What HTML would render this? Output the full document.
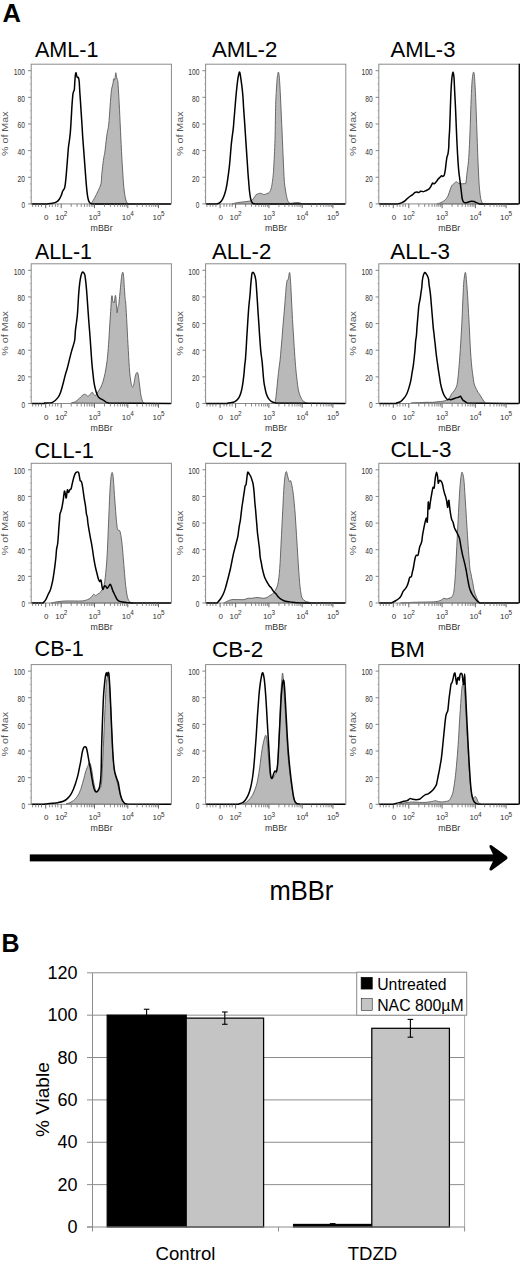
<!DOCTYPE html>
<html><head><meta charset="utf-8"><title>Figure</title>
<style>
html,body{margin:0;padding:0;background:#fff;}
body{width:520px;height:1261px;overflow:hidden;}
svg{display:block;font-family:"Liberation Sans", sans-serif;}
</style></head>
<body>
<svg width="520" height="1261" viewBox="0 0 520 1261">
<rect width="520" height="1261" fill="#fff"/>
<text x="2.4" y="22.2" font-size="25.5" font-weight="bold" fill="#000">A</text>
<text x="1.6" y="951.8" font-size="25" font-weight="bold" fill="#000">B</text>
<g transform="translate(31.2,64.2)">
<path d="M59.7,139.7 C60.26,138.82 61.84,136.64 63.07,134.42 C64.3,132.19 65.99,128.81 67.11,126.34 C68.23,123.87 69.24,122.08 69.8,119.61 C70.36,117.14 70.25,114 70.47,111.53 C70.7,109.06 70.81,107.72 71.15,104.8 C71.48,101.88 72.09,96.72 72.49,94.03 C72.9,91.34 73.23,90.89 73.57,88.65 C73.91,86.4 74.2,83.26 74.51,80.57 C74.83,77.88 75.16,74.74 75.45,72.49 C75.75,70.25 75.97,68.68 76.26,67.11 C76.55,65.54 76.93,64.86 77.2,63.07 C77.47,61.27 77.65,59.03 77.88,56.34 C78.1,53.65 78.33,50.06 78.55,46.92 C78.77,43.77 79,40.41 79.22,37.49 C79.45,34.58 79.67,31.66 79.9,29.42 C80.12,27.17 80.28,25.6 80.57,24.03 C80.86,22.46 81.31,21.56 81.65,19.99 C81.98,18.42 82.32,15.28 82.59,14.61 C82.86,13.93 83.04,16.18 83.26,15.95 C83.49,15.73 83.71,14.5 83.93,13.26 C84.16,12.03 84.38,8.66 84.61,8.55 C84.83,8.44 85.06,11.58 85.28,12.59 C85.51,13.6 85.73,13.82 85.95,14.61 C86.18,15.39 86.4,15.28 86.63,17.3 C86.85,19.32 87.08,23.13 87.3,26.72 C87.52,30.31 87.75,34.58 87.97,38.84 C88.2,43.1 88.42,47.59 88.65,52.3 C88.87,57.01 89.09,62.4 89.32,67.11 C89.54,71.82 89.77,76.08 89.99,80.57 C90.22,85.06 90.44,89.99 90.67,94.03 C90.89,98.07 91.11,101.21 91.34,104.8 C91.56,108.39 91.79,112.43 92.01,115.57 C92.24,118.71 92.39,120.95 92.68,123.65 C92.98,126.34 93.36,129.48 93.76,131.72 C94.17,133.97 94.61,135.78 95.11,137.11 C95.6,138.44 96.45,139.27 96.72,139.7 L96.72,139.7 Z" fill="#b9b9b9" stroke="#5a5a5a" stroke-width="0.9" stroke-linejoin="round"/>
<rect x="0" y="0" width="140.2" height="139.7" fill="none" stroke="#8a8a8a" stroke-width="1"/>
<path d="M0.5,139.7 L15.95,139.7 L15.95,139.7 C16.85,139.6 19.77,139.45 21.34,139.13 C22.91,138.81 24.26,138.45 25.38,137.78 C26.5,137.11 27.28,136.21 28.07,135.09 C28.85,133.97 29.53,132.4 30.09,131.05 C30.65,129.7 30.92,128.13 31.43,127.01 C31.95,125.89 32.74,125.55 33.18,124.32 C33.63,123.09 33.81,121.96 34.13,119.61 C34.44,117.25 34.73,114 35.07,110.18 C35.41,106.37 35.79,101.21 36.15,96.72 C36.51,92.24 36.89,86.63 37.22,83.26 C37.56,79.9 37.85,79 38.17,76.53 C38.48,74.06 38.82,71.82 39.11,68.45 C39.4,65.09 39.67,60.38 39.92,56.34 C40.16,52.3 40.36,47.81 40.59,44.22 C40.81,40.63 41.06,37.27 41.26,34.8 C41.46,32.33 41.58,30.76 41.8,29.42 C42.02,28.07 42.38,27.4 42.61,26.72 C42.83,26.05 42.99,26.72 43.15,25.38 C43.3,24.03 43.37,21.11 43.55,18.65 C43.73,16.18 44,12.25 44.22,10.57 C44.45,8.89 44.67,8.33 44.9,8.55 C45.12,8.77 45.34,11.13 45.57,11.92 C45.79,12.7 45.97,13.04 46.24,13.26 C46.51,13.49 46.89,12.59 47.18,13.26 C47.48,13.93 47.77,15.06 47.99,17.3 C48.22,19.54 48.33,23.58 48.53,26.72 C48.73,29.86 48.98,32.78 49.2,36.15 C49.43,39.51 49.63,43.1 49.88,46.92 C50.12,50.73 50.42,54.77 50.68,59.03 C50.95,63.29 51.22,68.45 51.49,72.49 C51.76,76.53 52.03,79.67 52.3,83.26 C52.57,86.85 52.84,90.44 53.11,94.03 C53.38,97.62 53.65,101.21 53.92,104.8 C54.18,108.39 54.45,112.2 54.72,115.57 C54.99,118.93 55.26,122.3 55.53,124.99 C55.8,127.68 56.02,129.82 56.34,131.72 C56.65,133.63 57.01,135.27 57.42,136.43 C57.82,137.6 58.27,138.18 58.76,138.72 C59.26,139.27 60.11,139.54 60.38,139.7 L139.7,139.7" fill="none" stroke="#000" stroke-width="1.5" stroke-linejoin="round"/>
<line x1="-3.2" y1="139.7" x2="0" y2="139.7" stroke="#777" stroke-width="0.9"/>
<text x="-9.8" y="144.1" font-size="8.6" fill="#333" textLength="3.6" lengthAdjust="spacingAndGlyphs">0</text>
<line x1="-3.2" y1="113.06" x2="0" y2="113.06" stroke="#777" stroke-width="0.9"/>
<text x="-13.6" y="117.46" font-size="8.6" fill="#333" textLength="7.4" lengthAdjust="spacingAndGlyphs">20</text>
<line x1="-3.2" y1="86.42" x2="0" y2="86.42" stroke="#777" stroke-width="0.9"/>
<text x="-13.6" y="90.82" font-size="8.6" fill="#333" textLength="7.4" lengthAdjust="spacingAndGlyphs">40</text>
<line x1="-3.2" y1="59.78" x2="0" y2="59.78" stroke="#777" stroke-width="0.9"/>
<text x="-13.6" y="64.18" font-size="8.6" fill="#333" textLength="7.4" lengthAdjust="spacingAndGlyphs">60</text>
<line x1="-3.2" y1="33.14" x2="0" y2="33.14" stroke="#777" stroke-width="0.9"/>
<text x="-13.6" y="37.54" font-size="8.6" fill="#333" textLength="7.4" lengthAdjust="spacingAndGlyphs">80</text>
<line x1="-3.2" y1="6.5" x2="0" y2="6.5" stroke="#777" stroke-width="0.9"/>
<text x="-17.4" y="10.9" font-size="8.6" fill="#333" textLength="11.2" lengthAdjust="spacingAndGlyphs">100</text>
<line x1="-1.4" y1="133.04" x2="0" y2="133.04" stroke="#999" stroke-width="0.7"/>
<line x1="-1.4" y1="126.38" x2="0" y2="126.38" stroke="#999" stroke-width="0.7"/>
<line x1="-1.4" y1="119.72" x2="0" y2="119.72" stroke="#999" stroke-width="0.7"/>
<line x1="-1.4" y1="106.4" x2="0" y2="106.4" stroke="#999" stroke-width="0.7"/>
<line x1="-1.4" y1="99.74" x2="0" y2="99.74" stroke="#999" stroke-width="0.7"/>
<line x1="-1.4" y1="93.08" x2="0" y2="93.08" stroke="#999" stroke-width="0.7"/>
<line x1="-1.4" y1="79.76" x2="0" y2="79.76" stroke="#999" stroke-width="0.7"/>
<line x1="-1.4" y1="73.1" x2="0" y2="73.1" stroke="#999" stroke-width="0.7"/>
<line x1="-1.4" y1="66.44" x2="0" y2="66.44" stroke="#999" stroke-width="0.7"/>
<line x1="-1.4" y1="53.12" x2="0" y2="53.12" stroke="#999" stroke-width="0.7"/>
<line x1="-1.4" y1="46.46" x2="0" y2="46.46" stroke="#999" stroke-width="0.7"/>
<line x1="-1.4" y1="39.8" x2="0" y2="39.8" stroke="#999" stroke-width="0.7"/>
<line x1="-1.4" y1="26.48" x2="0" y2="26.48" stroke="#999" stroke-width="0.7"/>
<line x1="-1.4" y1="19.82" x2="0" y2="19.82" stroke="#999" stroke-width="0.7"/>
<line x1="-1.4" y1="13.16" x2="0" y2="13.16" stroke="#999" stroke-width="0.7"/>
<text transform="translate(-22.9,69.55) rotate(-90)" font-size="9.8" fill="#555" text-anchor="middle" textLength="44.6" lengthAdjust="spacingAndGlyphs">% of Max</text>
<line x1="14.5" y1="139.7" x2="14.5" y2="144" stroke="#555" stroke-width="0.9"/>
<line x1="30" y1="139.7" x2="30" y2="144" stroke="#555" stroke-width="0.9"/>
<line x1="63.3" y1="139.7" x2="63.3" y2="144" stroke="#555" stroke-width="0.9"/>
<line x1="96.6" y1="139.7" x2="96.6" y2="144" stroke="#555" stroke-width="0.9"/>
<line x1="127.3" y1="139.7" x2="127.3" y2="144" stroke="#555" stroke-width="0.9"/>
<line x1="40.02" y1="139.7" x2="40.02" y2="142.7" stroke="#666" stroke-width="0.75"/>
<line x1="45.89" y1="139.7" x2="45.89" y2="142.7" stroke="#666" stroke-width="0.75"/>
<line x1="50.05" y1="139.7" x2="50.05" y2="142.7" stroke="#666" stroke-width="0.75"/>
<line x1="53.28" y1="139.7" x2="53.28" y2="142.7" stroke="#666" stroke-width="0.75"/>
<line x1="55.91" y1="139.7" x2="55.91" y2="142.7" stroke="#666" stroke-width="0.75"/>
<line x1="58.14" y1="139.7" x2="58.14" y2="142.7" stroke="#666" stroke-width="0.75"/>
<line x1="60.07" y1="139.7" x2="60.07" y2="142.7" stroke="#666" stroke-width="0.75"/>
<line x1="61.78" y1="139.7" x2="61.78" y2="142.7" stroke="#666" stroke-width="0.75"/>
<line x1="73.32" y1="139.7" x2="73.32" y2="142.7" stroke="#666" stroke-width="0.75"/>
<line x1="79.19" y1="139.7" x2="79.19" y2="142.7" stroke="#666" stroke-width="0.75"/>
<line x1="83.35" y1="139.7" x2="83.35" y2="142.7" stroke="#666" stroke-width="0.75"/>
<line x1="86.58" y1="139.7" x2="86.58" y2="142.7" stroke="#666" stroke-width="0.75"/>
<line x1="89.21" y1="139.7" x2="89.21" y2="142.7" stroke="#666" stroke-width="0.75"/>
<line x1="91.44" y1="139.7" x2="91.44" y2="142.7" stroke="#666" stroke-width="0.75"/>
<line x1="93.37" y1="139.7" x2="93.37" y2="142.7" stroke="#666" stroke-width="0.75"/>
<line x1="95.08" y1="139.7" x2="95.08" y2="142.7" stroke="#666" stroke-width="0.75"/>
<line x1="105.84" y1="139.7" x2="105.84" y2="142.7" stroke="#666" stroke-width="0.75"/>
<line x1="111.25" y1="139.7" x2="111.25" y2="142.7" stroke="#666" stroke-width="0.75"/>
<line x1="115.08" y1="139.7" x2="115.08" y2="142.7" stroke="#666" stroke-width="0.75"/>
<line x1="118.06" y1="139.7" x2="118.06" y2="142.7" stroke="#666" stroke-width="0.75"/>
<line x1="120.49" y1="139.7" x2="120.49" y2="142.7" stroke="#666" stroke-width="0.75"/>
<line x1="122.54" y1="139.7" x2="122.54" y2="142.7" stroke="#666" stroke-width="0.75"/>
<line x1="124.32" y1="139.7" x2="124.32" y2="142.7" stroke="#666" stroke-width="0.75"/>
<line x1="125.9" y1="139.7" x2="125.9" y2="142.7" stroke="#666" stroke-width="0.75"/>
<line x1="1.4" y1="139.7" x2="1.4" y2="142.7" stroke="#666" stroke-width="0.75"/>
<line x1="4.6" y1="139.7" x2="4.6" y2="142.7" stroke="#666" stroke-width="0.75"/>
<line x1="7.3" y1="139.7" x2="7.3" y2="142.7" stroke="#666" stroke-width="0.75"/>
<line x1="10.3" y1="139.7" x2="10.3" y2="142.7" stroke="#666" stroke-width="0.75"/>
<line x1="18.4" y1="139.7" x2="18.4" y2="142.7" stroke="#666" stroke-width="0.75"/>
<line x1="21.1" y1="139.7" x2="21.1" y2="142.7" stroke="#666" stroke-width="0.75"/>
<line x1="24.2" y1="139.7" x2="24.2" y2="142.7" stroke="#666" stroke-width="0.75"/>
<line x1="26.6" y1="139.7" x2="26.6" y2="142.7" stroke="#666" stroke-width="0.75"/>
<text x="15.1" y="155.9" font-size="8" fill="#333" text-anchor="middle">0</text>
<text x="24" y="155.9" font-size="8" fill="#333">10</text>
<text x="32.5" y="152" font-size="6.4" fill="#333">2</text>
<text x="57.3" y="155.9" font-size="8" fill="#333">10</text>
<text x="65.8" y="152" font-size="6.4" fill="#333">3</text>
<text x="90.6" y="155.9" font-size="8" fill="#333">10</text>
<text x="99.1" y="152" font-size="6.4" fill="#333">4</text>
<text x="121.3" y="155.9" font-size="8" fill="#333">10</text>
<text x="129.8" y="152" font-size="6.4" fill="#333">5</text>
<text x="70.4" y="166.9" font-size="8.8" fill="#333" text-anchor="middle">mBBr</text>
</g>
<text transform="translate(35,57.3) scale(0.98,1)" font-size="22" fill="#000">AML-1</text>
<g transform="translate(205.6,64.2)">
<path d="M26.32,139.7 C27.22,139.49 29.91,138.77 31.71,138.45 C33.5,138.13 35.3,138.01 37.09,137.78 C38.89,137.56 41.02,137.33 42.48,137.11 C43.94,136.88 44.94,136.88 45.84,136.43 C46.74,135.99 47.3,135.09 47.86,134.42 C48.42,133.74 48.76,133.07 49.21,132.4 C49.66,131.72 49.99,130.83 50.55,130.38 C51.11,129.93 51.9,129.93 52.57,129.7 C53.25,129.48 53.92,129.03 54.59,129.03 C55.27,129.03 55.94,129.48 56.61,129.7 C57.28,129.93 57.96,130.38 58.63,130.38 C59.3,130.38 59.98,129.93 60.65,129.7 C61.32,129.48 62.11,129.37 62.67,129.03 C63.23,128.69 63.57,128.36 64.02,127.68 C64.46,127.01 64.91,126.56 65.36,124.99 C65.81,123.42 66.26,121.63 66.71,118.26 C67.16,114.9 67.61,111.98 68.05,104.8 C68.5,97.62 69.06,85.95 69.4,75.18 C69.74,64.42 69.85,48.26 70.07,40.18 C70.3,32.11 70.52,30.76 70.75,26.72 C70.97,22.68 71.19,18.65 71.42,15.95 C71.64,13.26 71.87,11.92 72.09,10.57 C72.32,9.22 72.54,7.88 72.77,7.88 C72.99,7.88 73.21,8.77 73.44,10.57 C73.66,12.36 73.89,15.28 74.11,18.65 C74.34,22.01 74.56,26.27 74.78,30.76 C75.01,35.25 75.23,40.63 75.46,45.57 C75.68,50.51 75.91,55.44 76.13,60.38 C76.36,65.31 76.58,70.02 76.8,75.18 C77.03,80.34 77.25,86.18 77.48,91.34 C77.7,96.5 77.93,101.66 78.15,106.15 C78.37,110.63 78.49,114.67 78.82,118.26 C79.16,121.85 79.72,124.99 80.17,127.68 C80.62,130.38 81.07,132.73 81.52,134.42 C81.96,136.1 82.3,137 82.86,137.78 C83.42,138.57 83.76,139.01 84.88,139.13 C86,139.24 88.13,138.57 89.59,138.45 C91.05,138.34 92.51,138.25 93.63,138.45 C94.75,138.66 95.87,139.49 96.32,139.7 L96.32,139.7 Z" fill="#b9b9b9" stroke="#5a5a5a" stroke-width="0.9" stroke-linejoin="round"/>
<rect x="0" y="0" width="140.2" height="139.7" fill="none" stroke="#8a8a8a" stroke-width="1"/>
<path d="M0.5,139.7 L11.52,139.7 L11.52,139.7 C11.96,139.49 13.31,139.22 14.21,138.45 C15.11,137.69 16.11,136.43 16.9,135.09 C17.69,133.74 18.29,132.28 18.92,130.38 C19.55,128.47 20.15,126.11 20.67,123.65 C21.19,121.18 21.63,118.04 22.02,115.57 C22.4,113.1 22.69,110.86 22.96,108.84 C23.23,106.82 23.41,105.47 23.63,103.45 C23.86,101.43 24.08,99.19 24.3,96.72 C24.53,94.26 24.75,91.34 24.98,88.65 C25.2,85.95 25.38,83.26 25.65,80.57 C25.92,77.88 26.26,75.18 26.59,72.49 C26.93,69.8 27.38,67.11 27.67,64.42 C27.96,61.72 28.12,59.03 28.34,56.34 C28.57,53.65 28.79,50.95 29.02,48.26 C29.24,45.57 29.46,42.88 29.69,40.18 C29.91,37.49 30.09,35.02 30.36,32.11 C30.63,29.19 31.01,25.38 31.3,22.68 C31.6,19.99 31.82,17.97 32.11,15.95 C32.4,13.93 32.72,11.92 33.05,10.57 C33.39,9.22 33.79,7.43 34.13,7.88 C34.47,8.33 34.76,11.24 35.07,13.26 C35.39,15.28 35.72,17.75 36.02,19.99 C36.31,22.24 36.58,24.26 36.82,26.72 C37.07,29.19 37.29,31.88 37.5,34.8 C37.7,37.72 37.83,41.08 38.03,44.22 C38.24,47.36 38.51,50.73 38.71,53.65 C38.91,56.56 39.07,59.03 39.25,61.72 C39.43,64.42 39.61,67.11 39.78,69.8 C39.96,72.49 40.14,75.18 40.32,77.88 C40.5,80.57 40.68,83.26 40.86,85.95 C41.04,88.65 41.22,91.34 41.4,94.03 C41.58,96.72 41.76,99.42 41.94,102.11 C42.12,104.8 42.27,107.49 42.48,110.18 C42.68,112.88 42.93,115.57 43.15,118.26 C43.37,120.95 43.55,123.87 43.82,126.34 C44.09,128.81 44.43,131.27 44.77,133.07 C45.1,134.86 45.44,136.1 45.84,137.11 C46.25,138.12 46.63,138.69 47.19,139.13 C47.75,139.56 48.87,139.6 49.21,139.7 L139.7,139.7" fill="none" stroke="#000" stroke-width="1.5" stroke-linejoin="round"/>
<line x1="-3.2" y1="139.7" x2="0" y2="139.7" stroke="#777" stroke-width="0.9"/>
<text x="-9.8" y="144.1" font-size="8.6" fill="#333" textLength="3.6" lengthAdjust="spacingAndGlyphs">0</text>
<line x1="-3.2" y1="113.06" x2="0" y2="113.06" stroke="#777" stroke-width="0.9"/>
<text x="-13.6" y="117.46" font-size="8.6" fill="#333" textLength="7.4" lengthAdjust="spacingAndGlyphs">20</text>
<line x1="-3.2" y1="86.42" x2="0" y2="86.42" stroke="#777" stroke-width="0.9"/>
<text x="-13.6" y="90.82" font-size="8.6" fill="#333" textLength="7.4" lengthAdjust="spacingAndGlyphs">40</text>
<line x1="-3.2" y1="59.78" x2="0" y2="59.78" stroke="#777" stroke-width="0.9"/>
<text x="-13.6" y="64.18" font-size="8.6" fill="#333" textLength="7.4" lengthAdjust="spacingAndGlyphs">60</text>
<line x1="-3.2" y1="33.14" x2="0" y2="33.14" stroke="#777" stroke-width="0.9"/>
<text x="-13.6" y="37.54" font-size="8.6" fill="#333" textLength="7.4" lengthAdjust="spacingAndGlyphs">80</text>
<line x1="-3.2" y1="6.5" x2="0" y2="6.5" stroke="#777" stroke-width="0.9"/>
<text x="-17.4" y="10.9" font-size="8.6" fill="#333" textLength="11.2" lengthAdjust="spacingAndGlyphs">100</text>
<line x1="-1.4" y1="133.04" x2="0" y2="133.04" stroke="#999" stroke-width="0.7"/>
<line x1="-1.4" y1="126.38" x2="0" y2="126.38" stroke="#999" stroke-width="0.7"/>
<line x1="-1.4" y1="119.72" x2="0" y2="119.72" stroke="#999" stroke-width="0.7"/>
<line x1="-1.4" y1="106.4" x2="0" y2="106.4" stroke="#999" stroke-width="0.7"/>
<line x1="-1.4" y1="99.74" x2="0" y2="99.74" stroke="#999" stroke-width="0.7"/>
<line x1="-1.4" y1="93.08" x2="0" y2="93.08" stroke="#999" stroke-width="0.7"/>
<line x1="-1.4" y1="79.76" x2="0" y2="79.76" stroke="#999" stroke-width="0.7"/>
<line x1="-1.4" y1="73.1" x2="0" y2="73.1" stroke="#999" stroke-width="0.7"/>
<line x1="-1.4" y1="66.44" x2="0" y2="66.44" stroke="#999" stroke-width="0.7"/>
<line x1="-1.4" y1="53.12" x2="0" y2="53.12" stroke="#999" stroke-width="0.7"/>
<line x1="-1.4" y1="46.46" x2="0" y2="46.46" stroke="#999" stroke-width="0.7"/>
<line x1="-1.4" y1="39.8" x2="0" y2="39.8" stroke="#999" stroke-width="0.7"/>
<line x1="-1.4" y1="26.48" x2="0" y2="26.48" stroke="#999" stroke-width="0.7"/>
<line x1="-1.4" y1="19.82" x2="0" y2="19.82" stroke="#999" stroke-width="0.7"/>
<line x1="-1.4" y1="13.16" x2="0" y2="13.16" stroke="#999" stroke-width="0.7"/>
<text transform="translate(-22.9,69.55) rotate(-90)" font-size="9.8" fill="#555" text-anchor="middle" textLength="44.6" lengthAdjust="spacingAndGlyphs">% of Max</text>
<line x1="14.5" y1="139.7" x2="14.5" y2="144" stroke="#555" stroke-width="0.9"/>
<line x1="30" y1="139.7" x2="30" y2="144" stroke="#555" stroke-width="0.9"/>
<line x1="63.3" y1="139.7" x2="63.3" y2="144" stroke="#555" stroke-width="0.9"/>
<line x1="96.6" y1="139.7" x2="96.6" y2="144" stroke="#555" stroke-width="0.9"/>
<line x1="127.3" y1="139.7" x2="127.3" y2="144" stroke="#555" stroke-width="0.9"/>
<line x1="40.02" y1="139.7" x2="40.02" y2="142.7" stroke="#666" stroke-width="0.75"/>
<line x1="45.89" y1="139.7" x2="45.89" y2="142.7" stroke="#666" stroke-width="0.75"/>
<line x1="50.05" y1="139.7" x2="50.05" y2="142.7" stroke="#666" stroke-width="0.75"/>
<line x1="53.28" y1="139.7" x2="53.28" y2="142.7" stroke="#666" stroke-width="0.75"/>
<line x1="55.91" y1="139.7" x2="55.91" y2="142.7" stroke="#666" stroke-width="0.75"/>
<line x1="58.14" y1="139.7" x2="58.14" y2="142.7" stroke="#666" stroke-width="0.75"/>
<line x1="60.07" y1="139.7" x2="60.07" y2="142.7" stroke="#666" stroke-width="0.75"/>
<line x1="61.78" y1="139.7" x2="61.78" y2="142.7" stroke="#666" stroke-width="0.75"/>
<line x1="73.32" y1="139.7" x2="73.32" y2="142.7" stroke="#666" stroke-width="0.75"/>
<line x1="79.19" y1="139.7" x2="79.19" y2="142.7" stroke="#666" stroke-width="0.75"/>
<line x1="83.35" y1="139.7" x2="83.35" y2="142.7" stroke="#666" stroke-width="0.75"/>
<line x1="86.58" y1="139.7" x2="86.58" y2="142.7" stroke="#666" stroke-width="0.75"/>
<line x1="89.21" y1="139.7" x2="89.21" y2="142.7" stroke="#666" stroke-width="0.75"/>
<line x1="91.44" y1="139.7" x2="91.44" y2="142.7" stroke="#666" stroke-width="0.75"/>
<line x1="93.37" y1="139.7" x2="93.37" y2="142.7" stroke="#666" stroke-width="0.75"/>
<line x1="95.08" y1="139.7" x2="95.08" y2="142.7" stroke="#666" stroke-width="0.75"/>
<line x1="105.84" y1="139.7" x2="105.84" y2="142.7" stroke="#666" stroke-width="0.75"/>
<line x1="111.25" y1="139.7" x2="111.25" y2="142.7" stroke="#666" stroke-width="0.75"/>
<line x1="115.08" y1="139.7" x2="115.08" y2="142.7" stroke="#666" stroke-width="0.75"/>
<line x1="118.06" y1="139.7" x2="118.06" y2="142.7" stroke="#666" stroke-width="0.75"/>
<line x1="120.49" y1="139.7" x2="120.49" y2="142.7" stroke="#666" stroke-width="0.75"/>
<line x1="122.54" y1="139.7" x2="122.54" y2="142.7" stroke="#666" stroke-width="0.75"/>
<line x1="124.32" y1="139.7" x2="124.32" y2="142.7" stroke="#666" stroke-width="0.75"/>
<line x1="125.9" y1="139.7" x2="125.9" y2="142.7" stroke="#666" stroke-width="0.75"/>
<line x1="1.4" y1="139.7" x2="1.4" y2="142.7" stroke="#666" stroke-width="0.75"/>
<line x1="4.6" y1="139.7" x2="4.6" y2="142.7" stroke="#666" stroke-width="0.75"/>
<line x1="7.3" y1="139.7" x2="7.3" y2="142.7" stroke="#666" stroke-width="0.75"/>
<line x1="10.3" y1="139.7" x2="10.3" y2="142.7" stroke="#666" stroke-width="0.75"/>
<line x1="18.4" y1="139.7" x2="18.4" y2="142.7" stroke="#666" stroke-width="0.75"/>
<line x1="21.1" y1="139.7" x2="21.1" y2="142.7" stroke="#666" stroke-width="0.75"/>
<line x1="24.2" y1="139.7" x2="24.2" y2="142.7" stroke="#666" stroke-width="0.75"/>
<line x1="26.6" y1="139.7" x2="26.6" y2="142.7" stroke="#666" stroke-width="0.75"/>
<text x="15.1" y="155.9" font-size="8" fill="#333" text-anchor="middle">0</text>
<text x="24" y="155.9" font-size="8" fill="#333">10</text>
<text x="32.5" y="152" font-size="6.4" fill="#333">2</text>
<text x="57.3" y="155.9" font-size="8" fill="#333">10</text>
<text x="65.8" y="152" font-size="6.4" fill="#333">3</text>
<text x="90.6" y="155.9" font-size="8" fill="#333">10</text>
<text x="99.1" y="152" font-size="6.4" fill="#333">4</text>
<text x="121.3" y="155.9" font-size="8" fill="#333">10</text>
<text x="129.8" y="152" font-size="6.4" fill="#333">5</text>
<text x="70.4" y="166.9" font-size="8.8" fill="#333" text-anchor="middle">mBBr</text>
</g>
<text transform="translate(211.9,57.3) scale(1.01,1)" font-size="22" fill="#000">AML-2</text>
<g transform="translate(378.8,64.2)">
<path d="M58.08,139.7 C58.76,139.49 60.89,139 62.12,138.45 C63.36,137.91 64.59,137.11 65.49,136.43 C66.39,135.76 66.95,135.09 67.51,134.42 C68.07,133.74 68.41,133.29 68.85,132.4 C69.3,131.5 69.75,130.26 70.2,129.03 C70.65,127.8 71.1,126.23 71.55,124.99 C71.99,123.76 72.33,122.52 72.89,121.63 C73.45,120.73 74.13,120.28 74.91,119.61 C75.7,118.93 76.82,117.7 77.6,117.59 C78.39,117.48 78.95,118.6 79.62,118.93 C80.3,119.27 80.97,119.5 81.64,119.61 C82.32,119.72 82.99,119.65 83.66,119.61 C84.33,119.56 85.12,119.45 85.68,119.34 C86.24,119.23 86.58,120.91 87.03,118.93 C87.48,116.96 87.92,111.19 88.37,107.49 C88.82,103.79 89.34,101.21 89.72,96.72 C90.1,92.24 90.37,86.63 90.66,80.57 C90.95,74.51 91.22,67.11 91.47,60.38 C91.72,53.65 91.87,46.92 92.14,40.18 C92.41,33.45 92.77,24.93 93.08,19.99 C93.4,15.06 93.74,12.59 94.03,10.57 C94.32,8.55 94.59,7.88 94.83,7.88 C95.08,7.88 95.28,8.55 95.51,10.57 C95.73,12.59 95.96,16.18 96.18,19.99 C96.41,23.81 96.63,28.29 96.85,33.45 C97.08,38.61 97.3,44.9 97.53,50.95 C97.75,57.01 97.98,63.52 98.2,69.8 C98.42,76.08 98.65,82.81 98.87,88.65 C99.1,94.48 99.32,99.86 99.55,104.8 C99.77,109.74 99.95,114.22 100.22,118.26 C100.49,122.3 100.82,126.11 101.16,129.03 C101.5,131.95 101.79,134.08 102.24,135.76 C102.69,137.44 103.25,138.47 103.85,139.13 C104.46,139.78 105.54,139.6 105.87,139.7 L105.87,139.7 Z" fill="#b9b9b9" stroke="#5a5a5a" stroke-width="0.9" stroke-linejoin="round"/>
<rect x="0" y="0" width="140.5" height="139.7" fill="none" stroke="#8a8a8a" stroke-width="1"/>
<line x1="140.5" y1="-0.5" x2="140.5" y2="139.7" stroke="#000" stroke-width="1.3"/>
<path d="M0.5,139.7 L19.05,139.7 L19.05,139.7 C19.72,139.49 21.85,139 23.08,138.45 C24.32,137.91 25.44,137.22 26.45,136.43 C27.46,135.65 28.24,134.53 29.14,133.74 C30.04,132.96 31.05,132.28 31.83,131.72 C32.62,131.16 33.18,130.94 33.85,130.38 C34.53,129.82 35.2,128.81 35.87,128.36 C36.55,127.91 37.22,127.68 37.89,127.68 C38.57,127.68 39.24,128.47 39.91,128.36 C40.58,128.25 41.15,127.17 41.93,127.01 C42.72,126.85 43.73,127.53 44.62,127.42 C45.52,127.3 46.42,126.74 47.32,126.34 C48.21,125.93 49.22,125.67 50.01,124.99 C50.79,124.32 51.4,123.31 52.03,122.3 C52.66,121.29 53.22,119.38 53.78,118.93 C54.34,118.49 54.79,119.83 55.39,119.61 C56,119.38 56.74,118.37 57.41,117.59 C58.08,116.8 58.76,115.68 59.43,114.9 C60.1,114.11 60.89,113.44 61.45,112.88 C62.01,112.32 62.35,111.64 62.8,111.53 C63.24,111.42 63.69,112.32 64.14,112.2 C64.59,112.09 65.11,111.87 65.49,110.86 C65.87,109.85 66.14,108.05 66.43,106.15 C66.72,104.24 66.95,101.66 67.24,99.42 C67.53,97.17 67.87,94.26 68.18,92.68 C68.49,91.11 68.83,91.56 69.12,89.99 C69.41,88.42 69.75,85.73 69.93,83.26 C70.11,80.79 70.04,78.33 70.2,75.18 C70.36,72.04 70.65,69.58 70.87,64.42 C71.1,59.26 71.32,50.51 71.55,44.22 C71.77,37.94 71.95,31.88 72.22,26.72 C72.49,21.56 72.82,16.4 73.16,13.26 C73.5,10.12 73.9,7.88 74.24,7.88 C74.58,7.88 74.91,10.12 75.18,13.26 C75.45,16.4 75.61,21.79 75.85,26.72 C76.1,31.66 76.41,37.49 76.66,42.88 C76.91,48.26 77.11,53.65 77.33,59.03 C77.56,64.42 77.78,70.25 78.01,75.18 C78.23,80.12 78.46,84.61 78.68,88.65 C78.91,92.68 79.13,96.27 79.35,99.42 C79.58,102.56 79.8,105.25 80.03,107.49 C80.25,109.74 80.48,111.08 80.7,112.88 C80.92,114.67 81.15,116.47 81.37,118.26 C81.6,120.06 81.82,121.85 82.05,123.65 C82.27,125.44 82.49,127.24 82.72,129.03 C82.94,130.83 83.12,133.07 83.39,134.42 C83.66,135.76 83.95,136.43 84.33,137.11 C84.72,137.78 85.12,138.23 85.68,138.45 C86.24,138.68 87.03,138.57 87.7,138.45 C88.37,138.34 88.93,138.01 89.72,137.78 C90.5,137.56 91.51,137.17 92.41,137.11 C93.31,137.04 94.21,137.15 95.1,137.38 C96,137.6 96.9,138.07 97.8,138.45 C98.69,138.84 100.04,139.49 100.49,139.7 L140,139.7" fill="none" stroke="#000" stroke-width="1.5" stroke-linejoin="round"/>
<line x1="-3.2" y1="139.7" x2="0" y2="139.7" stroke="#777" stroke-width="0.9"/>
<text x="-9.8" y="144.1" font-size="8.6" fill="#333" textLength="3.6" lengthAdjust="spacingAndGlyphs">0</text>
<line x1="-3.2" y1="113.06" x2="0" y2="113.06" stroke="#777" stroke-width="0.9"/>
<text x="-13.6" y="117.46" font-size="8.6" fill="#333" textLength="7.4" lengthAdjust="spacingAndGlyphs">20</text>
<line x1="-3.2" y1="86.42" x2="0" y2="86.42" stroke="#777" stroke-width="0.9"/>
<text x="-13.6" y="90.82" font-size="8.6" fill="#333" textLength="7.4" lengthAdjust="spacingAndGlyphs">40</text>
<line x1="-3.2" y1="59.78" x2="0" y2="59.78" stroke="#777" stroke-width="0.9"/>
<text x="-13.6" y="64.18" font-size="8.6" fill="#333" textLength="7.4" lengthAdjust="spacingAndGlyphs">60</text>
<line x1="-3.2" y1="33.14" x2="0" y2="33.14" stroke="#777" stroke-width="0.9"/>
<text x="-13.6" y="37.54" font-size="8.6" fill="#333" textLength="7.4" lengthAdjust="spacingAndGlyphs">80</text>
<line x1="-3.2" y1="6.5" x2="0" y2="6.5" stroke="#777" stroke-width="0.9"/>
<text x="-17.4" y="10.9" font-size="8.6" fill="#333" textLength="11.2" lengthAdjust="spacingAndGlyphs">100</text>
<line x1="-1.4" y1="133.04" x2="0" y2="133.04" stroke="#999" stroke-width="0.7"/>
<line x1="-1.4" y1="126.38" x2="0" y2="126.38" stroke="#999" stroke-width="0.7"/>
<line x1="-1.4" y1="119.72" x2="0" y2="119.72" stroke="#999" stroke-width="0.7"/>
<line x1="-1.4" y1="106.4" x2="0" y2="106.4" stroke="#999" stroke-width="0.7"/>
<line x1="-1.4" y1="99.74" x2="0" y2="99.74" stroke="#999" stroke-width="0.7"/>
<line x1="-1.4" y1="93.08" x2="0" y2="93.08" stroke="#999" stroke-width="0.7"/>
<line x1="-1.4" y1="79.76" x2="0" y2="79.76" stroke="#999" stroke-width="0.7"/>
<line x1="-1.4" y1="73.1" x2="0" y2="73.1" stroke="#999" stroke-width="0.7"/>
<line x1="-1.4" y1="66.44" x2="0" y2="66.44" stroke="#999" stroke-width="0.7"/>
<line x1="-1.4" y1="53.12" x2="0" y2="53.12" stroke="#999" stroke-width="0.7"/>
<line x1="-1.4" y1="46.46" x2="0" y2="46.46" stroke="#999" stroke-width="0.7"/>
<line x1="-1.4" y1="39.8" x2="0" y2="39.8" stroke="#999" stroke-width="0.7"/>
<line x1="-1.4" y1="26.48" x2="0" y2="26.48" stroke="#999" stroke-width="0.7"/>
<line x1="-1.4" y1="19.82" x2="0" y2="19.82" stroke="#999" stroke-width="0.7"/>
<line x1="-1.4" y1="13.16" x2="0" y2="13.16" stroke="#999" stroke-width="0.7"/>
<text transform="translate(-22.9,69.55) rotate(-90)" font-size="9.8" fill="#555" text-anchor="middle" textLength="44.6" lengthAdjust="spacingAndGlyphs">% of Max</text>
<line x1="14.5" y1="139.7" x2="14.5" y2="144" stroke="#555" stroke-width="0.9"/>
<line x1="30" y1="139.7" x2="30" y2="144" stroke="#555" stroke-width="0.9"/>
<line x1="63.3" y1="139.7" x2="63.3" y2="144" stroke="#555" stroke-width="0.9"/>
<line x1="96.6" y1="139.7" x2="96.6" y2="144" stroke="#555" stroke-width="0.9"/>
<line x1="127.3" y1="139.7" x2="127.3" y2="144" stroke="#555" stroke-width="0.9"/>
<line x1="40.02" y1="139.7" x2="40.02" y2="142.7" stroke="#666" stroke-width="0.75"/>
<line x1="45.89" y1="139.7" x2="45.89" y2="142.7" stroke="#666" stroke-width="0.75"/>
<line x1="50.05" y1="139.7" x2="50.05" y2="142.7" stroke="#666" stroke-width="0.75"/>
<line x1="53.28" y1="139.7" x2="53.28" y2="142.7" stroke="#666" stroke-width="0.75"/>
<line x1="55.91" y1="139.7" x2="55.91" y2="142.7" stroke="#666" stroke-width="0.75"/>
<line x1="58.14" y1="139.7" x2="58.14" y2="142.7" stroke="#666" stroke-width="0.75"/>
<line x1="60.07" y1="139.7" x2="60.07" y2="142.7" stroke="#666" stroke-width="0.75"/>
<line x1="61.78" y1="139.7" x2="61.78" y2="142.7" stroke="#666" stroke-width="0.75"/>
<line x1="73.32" y1="139.7" x2="73.32" y2="142.7" stroke="#666" stroke-width="0.75"/>
<line x1="79.19" y1="139.7" x2="79.19" y2="142.7" stroke="#666" stroke-width="0.75"/>
<line x1="83.35" y1="139.7" x2="83.35" y2="142.7" stroke="#666" stroke-width="0.75"/>
<line x1="86.58" y1="139.7" x2="86.58" y2="142.7" stroke="#666" stroke-width="0.75"/>
<line x1="89.21" y1="139.7" x2="89.21" y2="142.7" stroke="#666" stroke-width="0.75"/>
<line x1="91.44" y1="139.7" x2="91.44" y2="142.7" stroke="#666" stroke-width="0.75"/>
<line x1="93.37" y1="139.7" x2="93.37" y2="142.7" stroke="#666" stroke-width="0.75"/>
<line x1="95.08" y1="139.7" x2="95.08" y2="142.7" stroke="#666" stroke-width="0.75"/>
<line x1="105.84" y1="139.7" x2="105.84" y2="142.7" stroke="#666" stroke-width="0.75"/>
<line x1="111.25" y1="139.7" x2="111.25" y2="142.7" stroke="#666" stroke-width="0.75"/>
<line x1="115.08" y1="139.7" x2="115.08" y2="142.7" stroke="#666" stroke-width="0.75"/>
<line x1="118.06" y1="139.7" x2="118.06" y2="142.7" stroke="#666" stroke-width="0.75"/>
<line x1="120.49" y1="139.7" x2="120.49" y2="142.7" stroke="#666" stroke-width="0.75"/>
<line x1="122.54" y1="139.7" x2="122.54" y2="142.7" stroke="#666" stroke-width="0.75"/>
<line x1="124.32" y1="139.7" x2="124.32" y2="142.7" stroke="#666" stroke-width="0.75"/>
<line x1="125.9" y1="139.7" x2="125.9" y2="142.7" stroke="#666" stroke-width="0.75"/>
<line x1="1.4" y1="139.7" x2="1.4" y2="142.7" stroke="#666" stroke-width="0.75"/>
<line x1="4.6" y1="139.7" x2="4.6" y2="142.7" stroke="#666" stroke-width="0.75"/>
<line x1="7.3" y1="139.7" x2="7.3" y2="142.7" stroke="#666" stroke-width="0.75"/>
<line x1="10.3" y1="139.7" x2="10.3" y2="142.7" stroke="#666" stroke-width="0.75"/>
<line x1="18.4" y1="139.7" x2="18.4" y2="142.7" stroke="#666" stroke-width="0.75"/>
<line x1="21.1" y1="139.7" x2="21.1" y2="142.7" stroke="#666" stroke-width="0.75"/>
<line x1="24.2" y1="139.7" x2="24.2" y2="142.7" stroke="#666" stroke-width="0.75"/>
<line x1="26.6" y1="139.7" x2="26.6" y2="142.7" stroke="#666" stroke-width="0.75"/>
<text x="15.1" y="155.9" font-size="8" fill="#333" text-anchor="middle">0</text>
<text x="24" y="155.9" font-size="8" fill="#333">10</text>
<text x="32.5" y="152" font-size="6.4" fill="#333">2</text>
<text x="57.3" y="155.9" font-size="8" fill="#333">10</text>
<text x="65.8" y="152" font-size="6.4" fill="#333">3</text>
<text x="90.6" y="155.9" font-size="8" fill="#333">10</text>
<text x="99.1" y="152" font-size="6.4" fill="#333">4</text>
<text x="121.3" y="155.9" font-size="8" fill="#333">10</text>
<text x="129.8" y="152" font-size="6.4" fill="#333">5</text>
<text x="70.4" y="166.9" font-size="8.8" fill="#333" text-anchor="middle">mBBr</text>
</g>
<text transform="translate(390.6,57.3) scale(1,1)" font-size="22" fill="#000">AML-3</text>
<g transform="translate(31.2,263.8)">
<path d="M40.18,139.2 C40.86,138.98 42.88,138.64 44.22,137.85 C45.57,137.07 47.14,135.5 48.26,134.49 C49.38,133.48 50.1,132.47 50.95,131.8 C51.81,131.12 52.7,130.56 53.38,130.45 C54.05,130.34 54.39,130.79 54.99,131.12 C55.6,131.46 56.34,132.58 57.01,132.47 C57.68,132.36 58.36,131.12 59.03,130.45 C59.7,129.78 60.49,128.43 61.05,128.43 C61.61,128.43 61.88,129.89 62.4,130.45 C62.91,131.01 63.59,131.91 64.15,131.8 C64.71,131.68 65.16,130.67 65.76,129.78 C66.37,128.88 67.11,127.53 67.78,126.41 C68.45,125.29 69.13,124.5 69.8,123.05 C70.47,121.59 71.15,119.91 71.82,117.66 C72.49,115.42 73.23,112.5 73.84,109.58 C74.44,106.67 75.01,103.3 75.45,100.16 C75.9,97.02 76.17,94.55 76.53,90.74 C76.89,86.92 77.27,82.21 77.61,77.28 C77.94,72.34 78.24,66.06 78.55,61.12 C78.86,56.19 79.2,52.15 79.49,47.66 C79.78,43.17 80.05,36.78 80.3,34.2 C80.55,31.62 80.75,31.51 80.97,32.18 C81.2,32.85 81.38,37.23 81.65,38.24 C81.92,39.25 82.32,38.24 82.59,38.24 C82.86,38.24 83.04,39.25 83.26,38.24 C83.49,37.23 83.71,33.08 83.93,32.18 C84.16,31.28 84.38,31.17 84.61,32.85 C84.83,34.54 85.06,39.58 85.28,42.28 C85.51,44.97 85.73,48.78 85.95,49.01 C86.18,49.23 86.36,44.97 86.63,43.62 C86.9,42.28 87.28,42.73 87.57,40.93 C87.86,39.14 88.09,35.77 88.38,32.85 C88.67,29.94 89.01,26.57 89.32,23.43 C89.63,20.29 89.97,16.36 90.26,14.01 C90.55,11.65 90.82,10.19 91.07,9.3 C91.32,8.4 91.52,8.06 91.74,8.62 C91.97,9.18 92.21,10.64 92.42,12.66 C92.62,14.68 92.73,17.37 92.95,20.74 C93.18,24.1 93.51,29.94 93.76,32.85 C94.01,35.77 94.21,35.55 94.43,38.24 C94.66,40.93 94.88,45.19 95.11,49.01 C95.33,52.82 95.56,56.86 95.78,61.12 C96.01,65.39 96.23,70.32 96.45,74.58 C96.68,78.85 96.9,82.66 97.13,86.7 C97.35,90.74 97.58,95.23 97.8,98.82 C98.02,102.41 98.2,105.32 98.47,108.24 C98.74,111.16 99.08,114.07 99.42,116.32 C99.75,118.56 100.16,120.58 100.49,121.7 C100.83,122.82 101.12,123.05 101.43,123.05 C101.75,123.05 102.09,122.6 102.38,121.7 C102.67,120.8 102.94,119.01 103.18,117.66 C103.43,116.32 103.63,114.74 103.86,113.62 C104.08,112.5 104.26,111.72 104.53,110.93 C104.8,110.15 105.16,109.25 105.47,108.91 C105.79,108.57 106.12,108.35 106.42,108.91 C106.71,109.47 106.98,110.82 107.22,112.28 C107.47,113.74 107.67,115.87 107.9,117.66 C108.12,119.46 108.34,121.25 108.57,123.05 C108.79,124.84 108.97,126.64 109.24,128.43 C109.51,130.23 109.8,132.24 110.18,133.82 C110.57,135.39 111.08,136.96 111.53,137.85 C111.98,138.75 112.65,138.98 112.88,139.2 L112.88,139.7 Z" fill="#b9b9b9" stroke="#5a5a5a" stroke-width="0.9" stroke-linejoin="round"/>
<rect x="0" y="0" width="140.2" height="139.7" fill="none" stroke="#8a8a8a" stroke-width="1"/>
<path d="M0.5,139.7 L13.26,139.7 L13.26,139.2 C14.61,139.09 19.09,139.42 21.34,138.53 C23.58,137.63 25.38,135.5 26.72,133.82 C28.07,132.13 28.52,130.9 29.42,128.43 C30.31,125.96 31.32,121.92 32.11,119.01 C32.89,116.09 33.45,113.4 34.13,110.93 C34.8,108.46 35.47,106.67 36.15,104.2 C36.82,101.73 37.49,98.82 38.17,96.12 C38.84,93.43 39.51,90.51 40.18,88.05 C40.86,85.58 41.64,83.33 42.2,81.32 C42.76,79.3 43.21,78.4 43.55,75.93 C43.89,73.46 43.93,69.42 44.22,66.51 C44.51,63.59 44.96,61.12 45.3,58.43 C45.64,55.74 45.97,53.49 46.24,50.35 C46.51,47.21 46.69,43.17 46.92,39.58 C47.14,35.99 47.32,32.18 47.59,28.82 C47.86,25.45 48.19,22.08 48.53,19.39 C48.87,16.7 49.2,14.46 49.61,12.66 C50.01,10.87 50.51,9.3 50.95,8.62 C51.4,7.95 51.85,8.17 52.3,8.62 C52.75,9.07 53.24,9.52 53.65,11.32 C54.05,13.11 54.39,16.25 54.72,19.39 C55.06,22.53 55.35,26.12 55.67,30.16 C55.98,34.2 56.27,38.91 56.61,43.62 C56.94,48.33 57.33,53.72 57.68,58.43 C58.04,63.14 58.42,67.41 58.76,71.89 C59.1,76.38 59.39,80.87 59.7,85.35 C60.02,89.84 60.31,94.78 60.65,98.82 C60.98,102.85 61.32,105.99 61.72,109.58 C62.13,113.17 62.51,117.21 63.07,120.35 C63.63,123.49 64.42,126.3 65.09,128.43 C65.76,130.56 66.32,132.02 67.11,133.14 C67.89,134.26 68.9,134.6 69.8,135.16 C70.7,135.72 71.59,135.95 72.49,136.51 C73.39,137.07 74.29,138.08 75.18,138.53 C76.08,138.98 77.43,139.09 77.88,139.2 L139.7,139.7" fill="none" stroke="#000" stroke-width="1.5" stroke-linejoin="round"/>
<line x1="-3.2" y1="139.7" x2="0" y2="139.7" stroke="#777" stroke-width="0.9"/>
<text x="-9.8" y="144.1" font-size="8.6" fill="#333" textLength="3.6" lengthAdjust="spacingAndGlyphs">0</text>
<line x1="-3.2" y1="113.06" x2="0" y2="113.06" stroke="#777" stroke-width="0.9"/>
<text x="-13.6" y="117.46" font-size="8.6" fill="#333" textLength="7.4" lengthAdjust="spacingAndGlyphs">20</text>
<line x1="-3.2" y1="86.42" x2="0" y2="86.42" stroke="#777" stroke-width="0.9"/>
<text x="-13.6" y="90.82" font-size="8.6" fill="#333" textLength="7.4" lengthAdjust="spacingAndGlyphs">40</text>
<line x1="-3.2" y1="59.78" x2="0" y2="59.78" stroke="#777" stroke-width="0.9"/>
<text x="-13.6" y="64.18" font-size="8.6" fill="#333" textLength="7.4" lengthAdjust="spacingAndGlyphs">60</text>
<line x1="-3.2" y1="33.14" x2="0" y2="33.14" stroke="#777" stroke-width="0.9"/>
<text x="-13.6" y="37.54" font-size="8.6" fill="#333" textLength="7.4" lengthAdjust="spacingAndGlyphs">80</text>
<line x1="-3.2" y1="6.5" x2="0" y2="6.5" stroke="#777" stroke-width="0.9"/>
<text x="-17.4" y="10.9" font-size="8.6" fill="#333" textLength="11.2" lengthAdjust="spacingAndGlyphs">100</text>
<line x1="-1.4" y1="133.04" x2="0" y2="133.04" stroke="#999" stroke-width="0.7"/>
<line x1="-1.4" y1="126.38" x2="0" y2="126.38" stroke="#999" stroke-width="0.7"/>
<line x1="-1.4" y1="119.72" x2="0" y2="119.72" stroke="#999" stroke-width="0.7"/>
<line x1="-1.4" y1="106.4" x2="0" y2="106.4" stroke="#999" stroke-width="0.7"/>
<line x1="-1.4" y1="99.74" x2="0" y2="99.74" stroke="#999" stroke-width="0.7"/>
<line x1="-1.4" y1="93.08" x2="0" y2="93.08" stroke="#999" stroke-width="0.7"/>
<line x1="-1.4" y1="79.76" x2="0" y2="79.76" stroke="#999" stroke-width="0.7"/>
<line x1="-1.4" y1="73.1" x2="0" y2="73.1" stroke="#999" stroke-width="0.7"/>
<line x1="-1.4" y1="66.44" x2="0" y2="66.44" stroke="#999" stroke-width="0.7"/>
<line x1="-1.4" y1="53.12" x2="0" y2="53.12" stroke="#999" stroke-width="0.7"/>
<line x1="-1.4" y1="46.46" x2="0" y2="46.46" stroke="#999" stroke-width="0.7"/>
<line x1="-1.4" y1="39.8" x2="0" y2="39.8" stroke="#999" stroke-width="0.7"/>
<line x1="-1.4" y1="26.48" x2="0" y2="26.48" stroke="#999" stroke-width="0.7"/>
<line x1="-1.4" y1="19.82" x2="0" y2="19.82" stroke="#999" stroke-width="0.7"/>
<line x1="-1.4" y1="13.16" x2="0" y2="13.16" stroke="#999" stroke-width="0.7"/>
<text transform="translate(-22.9,69.55) rotate(-90)" font-size="9.8" fill="#555" text-anchor="middle" textLength="44.6" lengthAdjust="spacingAndGlyphs">% of Max</text>
<line x1="14.5" y1="139.7" x2="14.5" y2="144" stroke="#555" stroke-width="0.9"/>
<line x1="30" y1="139.7" x2="30" y2="144" stroke="#555" stroke-width="0.9"/>
<line x1="63.3" y1="139.7" x2="63.3" y2="144" stroke="#555" stroke-width="0.9"/>
<line x1="96.6" y1="139.7" x2="96.6" y2="144" stroke="#555" stroke-width="0.9"/>
<line x1="127.3" y1="139.7" x2="127.3" y2="144" stroke="#555" stroke-width="0.9"/>
<line x1="40.02" y1="139.7" x2="40.02" y2="142.7" stroke="#666" stroke-width="0.75"/>
<line x1="45.89" y1="139.7" x2="45.89" y2="142.7" stroke="#666" stroke-width="0.75"/>
<line x1="50.05" y1="139.7" x2="50.05" y2="142.7" stroke="#666" stroke-width="0.75"/>
<line x1="53.28" y1="139.7" x2="53.28" y2="142.7" stroke="#666" stroke-width="0.75"/>
<line x1="55.91" y1="139.7" x2="55.91" y2="142.7" stroke="#666" stroke-width="0.75"/>
<line x1="58.14" y1="139.7" x2="58.14" y2="142.7" stroke="#666" stroke-width="0.75"/>
<line x1="60.07" y1="139.7" x2="60.07" y2="142.7" stroke="#666" stroke-width="0.75"/>
<line x1="61.78" y1="139.7" x2="61.78" y2="142.7" stroke="#666" stroke-width="0.75"/>
<line x1="73.32" y1="139.7" x2="73.32" y2="142.7" stroke="#666" stroke-width="0.75"/>
<line x1="79.19" y1="139.7" x2="79.19" y2="142.7" stroke="#666" stroke-width="0.75"/>
<line x1="83.35" y1="139.7" x2="83.35" y2="142.7" stroke="#666" stroke-width="0.75"/>
<line x1="86.58" y1="139.7" x2="86.58" y2="142.7" stroke="#666" stroke-width="0.75"/>
<line x1="89.21" y1="139.7" x2="89.21" y2="142.7" stroke="#666" stroke-width="0.75"/>
<line x1="91.44" y1="139.7" x2="91.44" y2="142.7" stroke="#666" stroke-width="0.75"/>
<line x1="93.37" y1="139.7" x2="93.37" y2="142.7" stroke="#666" stroke-width="0.75"/>
<line x1="95.08" y1="139.7" x2="95.08" y2="142.7" stroke="#666" stroke-width="0.75"/>
<line x1="105.84" y1="139.7" x2="105.84" y2="142.7" stroke="#666" stroke-width="0.75"/>
<line x1="111.25" y1="139.7" x2="111.25" y2="142.7" stroke="#666" stroke-width="0.75"/>
<line x1="115.08" y1="139.7" x2="115.08" y2="142.7" stroke="#666" stroke-width="0.75"/>
<line x1="118.06" y1="139.7" x2="118.06" y2="142.7" stroke="#666" stroke-width="0.75"/>
<line x1="120.49" y1="139.7" x2="120.49" y2="142.7" stroke="#666" stroke-width="0.75"/>
<line x1="122.54" y1="139.7" x2="122.54" y2="142.7" stroke="#666" stroke-width="0.75"/>
<line x1="124.32" y1="139.7" x2="124.32" y2="142.7" stroke="#666" stroke-width="0.75"/>
<line x1="125.9" y1="139.7" x2="125.9" y2="142.7" stroke="#666" stroke-width="0.75"/>
<line x1="1.4" y1="139.7" x2="1.4" y2="142.7" stroke="#666" stroke-width="0.75"/>
<line x1="4.6" y1="139.7" x2="4.6" y2="142.7" stroke="#666" stroke-width="0.75"/>
<line x1="7.3" y1="139.7" x2="7.3" y2="142.7" stroke="#666" stroke-width="0.75"/>
<line x1="10.3" y1="139.7" x2="10.3" y2="142.7" stroke="#666" stroke-width="0.75"/>
<line x1="18.4" y1="139.7" x2="18.4" y2="142.7" stroke="#666" stroke-width="0.75"/>
<line x1="21.1" y1="139.7" x2="21.1" y2="142.7" stroke="#666" stroke-width="0.75"/>
<line x1="24.2" y1="139.7" x2="24.2" y2="142.7" stroke="#666" stroke-width="0.75"/>
<line x1="26.6" y1="139.7" x2="26.6" y2="142.7" stroke="#666" stroke-width="0.75"/>
<text x="15.1" y="155.9" font-size="8" fill="#333" text-anchor="middle">0</text>
<text x="24" y="155.9" font-size="8" fill="#333">10</text>
<text x="32.5" y="152" font-size="6.4" fill="#333">2</text>
<text x="57.3" y="155.9" font-size="8" fill="#333">10</text>
<text x="65.8" y="152" font-size="6.4" fill="#333">3</text>
<text x="90.6" y="155.9" font-size="8" fill="#333">10</text>
<text x="99.1" y="152" font-size="6.4" fill="#333">4</text>
<text x="121.3" y="155.9" font-size="8" fill="#333">10</text>
<text x="129.8" y="152" font-size="6.4" fill="#333">5</text>
<text x="70.4" y="166.9" font-size="8.8" fill="#333" text-anchor="middle">mBBr</text>
</g>
<text transform="translate(35,258.9) scale(0.97,1)" font-size="22" fill="#000">ALL-1</text>
<g transform="translate(205.6,263.8)">
<path d="M69.4,139.2 C69.58,138.08 70.14,135.16 70.48,132.47 C70.81,129.78 71.11,126.19 71.42,123.05 C71.73,119.91 72.02,116.76 72.36,113.62 C72.7,110.48 73.08,107.12 73.44,104.2 C73.8,101.28 74.18,99.26 74.52,96.12 C74.85,92.98 75.14,88.94 75.46,85.35 C75.77,81.76 76.11,78.17 76.4,74.58 C76.69,70.99 76.92,67.41 77.21,63.82 C77.5,60.23 77.84,56.64 78.15,53.05 C78.46,49.46 78.8,45.87 79.09,42.28 C79.38,38.69 79.63,34.87 79.9,31.51 C80.17,28.14 80.44,24.55 80.71,22.08 C80.98,19.62 81.22,17.71 81.52,16.7 C81.81,15.69 82.19,16.7 82.46,16.03 C82.73,15.35 82.88,13.9 83.13,12.66 C83.38,11.43 83.69,8.62 83.94,8.62 C84.19,8.62 84.39,10.19 84.61,12.66 C84.84,15.13 85.08,19.84 85.28,23.43 C85.49,27.02 85.64,30.61 85.82,34.2 C86,37.79 86.18,41.38 86.36,44.97 C86.54,48.56 86.7,52.15 86.9,55.74 C87.1,59.33 87.35,62.92 87.57,66.51 C87.8,70.1 88.02,73.69 88.25,77.28 C88.47,80.87 88.69,84.68 88.92,88.05 C89.14,91.41 89.37,94.55 89.59,97.47 C89.82,100.39 90.04,103.08 90.27,105.55 C90.49,108.01 90.71,110.26 90.94,112.28 C91.16,114.3 91.39,115.87 91.61,117.66 C91.84,119.46 92.06,121.48 92.28,123.05 C92.51,124.62 92.69,125.85 92.96,127.08 C93.23,128.32 93.56,129.44 93.9,130.45 C94.24,131.46 94.57,132.24 94.98,133.14 C95.38,134.04 95.76,135.05 96.32,135.83 C96.88,136.62 97.56,137.29 98.34,137.85 C99.13,138.41 100.59,138.98 101.03,139.2 L101.03,139.7 Z" fill="#b9b9b9" stroke="#5a5a5a" stroke-width="0.9" stroke-linejoin="round"/>
<rect x="0" y="0" width="140.2" height="139.7" fill="none" stroke="#8a8a8a" stroke-width="1"/>
<path d="M0.5,139.7 L22.28,139.7 L22.28,139.2 C23.18,139.09 26.21,138.98 27.67,138.53 C29.13,138.08 30.09,137.29 31.03,136.51 C31.98,135.72 32.65,134.94 33.32,133.82 C34,132.69 34.56,131.35 35.07,129.78 C35.59,128.21 36.02,126.41 36.42,124.39 C36.82,122.37 37.16,120.13 37.5,117.66 C37.83,115.19 38.17,112.28 38.44,109.58 C38.71,106.89 38.89,103.75 39.11,101.51 C39.34,99.26 39.56,98.59 39.78,96.12 C40.01,93.66 40.23,90.29 40.46,86.7 C40.68,83.11 40.91,78.4 41.13,74.58 C41.36,70.77 41.58,67.41 41.8,63.82 C42.03,60.23 42.25,56.41 42.48,53.05 C42.7,49.68 42.93,46.32 43.15,43.62 C43.37,40.93 43.6,39.14 43.82,36.89 C44.05,34.65 44.27,32.85 44.5,30.16 C44.72,27.47 44.94,23.43 45.17,20.74 C45.39,18.05 45.62,15.91 45.84,14.01 C46.07,12.1 46.22,10.19 46.52,9.3 C46.81,8.4 47.26,8.51 47.59,8.62 C47.93,8.74 48.22,9.3 48.53,9.97 C48.85,10.64 49.19,11.54 49.48,12.66 C49.77,13.78 50.06,14.91 50.28,16.7 C50.51,18.49 50.64,20.96 50.82,23.43 C51,25.9 51.18,28.82 51.36,31.51 C51.54,34.2 51.7,36.44 51.9,39.58 C52.1,42.73 52.35,46.99 52.57,50.35 C52.8,53.72 53.02,56.41 53.25,59.78 C53.47,63.14 53.69,67.18 53.92,70.55 C54.14,73.91 54.37,77.05 54.59,79.97 C54.82,82.89 55.04,85.8 55.27,88.05 C55.49,90.29 55.71,91.64 55.94,93.43 C56.16,95.23 56.39,96.57 56.61,98.82 C56.84,101.06 57.06,104.2 57.28,106.89 C57.51,109.58 57.73,112.73 57.96,114.97 C58.18,117.21 58.34,118.56 58.63,120.35 C58.92,122.15 59.37,124.17 59.71,125.74 C60.04,127.31 60.27,128.54 60.65,129.78 C61.03,131.01 61.48,132.13 62,133.14 C62.51,134.15 63.07,135.05 63.75,135.83 C64.42,136.62 65.2,137.36 66.03,137.85 C66.86,138.35 67.94,138.57 68.73,138.8 C69.51,139.02 70.41,139.13 70.75,139.2 L139.7,139.7" fill="none" stroke="#000" stroke-width="1.5" stroke-linejoin="round"/>
<line x1="-3.2" y1="139.7" x2="0" y2="139.7" stroke="#777" stroke-width="0.9"/>
<text x="-9.8" y="144.1" font-size="8.6" fill="#333" textLength="3.6" lengthAdjust="spacingAndGlyphs">0</text>
<line x1="-3.2" y1="113.06" x2="0" y2="113.06" stroke="#777" stroke-width="0.9"/>
<text x="-13.6" y="117.46" font-size="8.6" fill="#333" textLength="7.4" lengthAdjust="spacingAndGlyphs">20</text>
<line x1="-3.2" y1="86.42" x2="0" y2="86.42" stroke="#777" stroke-width="0.9"/>
<text x="-13.6" y="90.82" font-size="8.6" fill="#333" textLength="7.4" lengthAdjust="spacingAndGlyphs">40</text>
<line x1="-3.2" y1="59.78" x2="0" y2="59.78" stroke="#777" stroke-width="0.9"/>
<text x="-13.6" y="64.18" font-size="8.6" fill="#333" textLength="7.4" lengthAdjust="spacingAndGlyphs">60</text>
<line x1="-3.2" y1="33.14" x2="0" y2="33.14" stroke="#777" stroke-width="0.9"/>
<text x="-13.6" y="37.54" font-size="8.6" fill="#333" textLength="7.4" lengthAdjust="spacingAndGlyphs">80</text>
<line x1="-3.2" y1="6.5" x2="0" y2="6.5" stroke="#777" stroke-width="0.9"/>
<text x="-17.4" y="10.9" font-size="8.6" fill="#333" textLength="11.2" lengthAdjust="spacingAndGlyphs">100</text>
<line x1="-1.4" y1="133.04" x2="0" y2="133.04" stroke="#999" stroke-width="0.7"/>
<line x1="-1.4" y1="126.38" x2="0" y2="126.38" stroke="#999" stroke-width="0.7"/>
<line x1="-1.4" y1="119.72" x2="0" y2="119.72" stroke="#999" stroke-width="0.7"/>
<line x1="-1.4" y1="106.4" x2="0" y2="106.4" stroke="#999" stroke-width="0.7"/>
<line x1="-1.4" y1="99.74" x2="0" y2="99.74" stroke="#999" stroke-width="0.7"/>
<line x1="-1.4" y1="93.08" x2="0" y2="93.08" stroke="#999" stroke-width="0.7"/>
<line x1="-1.4" y1="79.76" x2="0" y2="79.76" stroke="#999" stroke-width="0.7"/>
<line x1="-1.4" y1="73.1" x2="0" y2="73.1" stroke="#999" stroke-width="0.7"/>
<line x1="-1.4" y1="66.44" x2="0" y2="66.44" stroke="#999" stroke-width="0.7"/>
<line x1="-1.4" y1="53.12" x2="0" y2="53.12" stroke="#999" stroke-width="0.7"/>
<line x1="-1.4" y1="46.46" x2="0" y2="46.46" stroke="#999" stroke-width="0.7"/>
<line x1="-1.4" y1="39.8" x2="0" y2="39.8" stroke="#999" stroke-width="0.7"/>
<line x1="-1.4" y1="26.48" x2="0" y2="26.48" stroke="#999" stroke-width="0.7"/>
<line x1="-1.4" y1="19.82" x2="0" y2="19.82" stroke="#999" stroke-width="0.7"/>
<line x1="-1.4" y1="13.16" x2="0" y2="13.16" stroke="#999" stroke-width="0.7"/>
<text transform="translate(-22.9,69.55) rotate(-90)" font-size="9.8" fill="#555" text-anchor="middle" textLength="44.6" lengthAdjust="spacingAndGlyphs">% of Max</text>
<line x1="14.5" y1="139.7" x2="14.5" y2="144" stroke="#555" stroke-width="0.9"/>
<line x1="30" y1="139.7" x2="30" y2="144" stroke="#555" stroke-width="0.9"/>
<line x1="63.3" y1="139.7" x2="63.3" y2="144" stroke="#555" stroke-width="0.9"/>
<line x1="96.6" y1="139.7" x2="96.6" y2="144" stroke="#555" stroke-width="0.9"/>
<line x1="127.3" y1="139.7" x2="127.3" y2="144" stroke="#555" stroke-width="0.9"/>
<line x1="40.02" y1="139.7" x2="40.02" y2="142.7" stroke="#666" stroke-width="0.75"/>
<line x1="45.89" y1="139.7" x2="45.89" y2="142.7" stroke="#666" stroke-width="0.75"/>
<line x1="50.05" y1="139.7" x2="50.05" y2="142.7" stroke="#666" stroke-width="0.75"/>
<line x1="53.28" y1="139.7" x2="53.28" y2="142.7" stroke="#666" stroke-width="0.75"/>
<line x1="55.91" y1="139.7" x2="55.91" y2="142.7" stroke="#666" stroke-width="0.75"/>
<line x1="58.14" y1="139.7" x2="58.14" y2="142.7" stroke="#666" stroke-width="0.75"/>
<line x1="60.07" y1="139.7" x2="60.07" y2="142.7" stroke="#666" stroke-width="0.75"/>
<line x1="61.78" y1="139.7" x2="61.78" y2="142.7" stroke="#666" stroke-width="0.75"/>
<line x1="73.32" y1="139.7" x2="73.32" y2="142.7" stroke="#666" stroke-width="0.75"/>
<line x1="79.19" y1="139.7" x2="79.19" y2="142.7" stroke="#666" stroke-width="0.75"/>
<line x1="83.35" y1="139.7" x2="83.35" y2="142.7" stroke="#666" stroke-width="0.75"/>
<line x1="86.58" y1="139.7" x2="86.58" y2="142.7" stroke="#666" stroke-width="0.75"/>
<line x1="89.21" y1="139.7" x2="89.21" y2="142.7" stroke="#666" stroke-width="0.75"/>
<line x1="91.44" y1="139.7" x2="91.44" y2="142.7" stroke="#666" stroke-width="0.75"/>
<line x1="93.37" y1="139.7" x2="93.37" y2="142.7" stroke="#666" stroke-width="0.75"/>
<line x1="95.08" y1="139.7" x2="95.08" y2="142.7" stroke="#666" stroke-width="0.75"/>
<line x1="105.84" y1="139.7" x2="105.84" y2="142.7" stroke="#666" stroke-width="0.75"/>
<line x1="111.25" y1="139.7" x2="111.25" y2="142.7" stroke="#666" stroke-width="0.75"/>
<line x1="115.08" y1="139.7" x2="115.08" y2="142.7" stroke="#666" stroke-width="0.75"/>
<line x1="118.06" y1="139.7" x2="118.06" y2="142.7" stroke="#666" stroke-width="0.75"/>
<line x1="120.49" y1="139.7" x2="120.49" y2="142.7" stroke="#666" stroke-width="0.75"/>
<line x1="122.54" y1="139.7" x2="122.54" y2="142.7" stroke="#666" stroke-width="0.75"/>
<line x1="124.32" y1="139.7" x2="124.32" y2="142.7" stroke="#666" stroke-width="0.75"/>
<line x1="125.9" y1="139.7" x2="125.9" y2="142.7" stroke="#666" stroke-width="0.75"/>
<line x1="1.4" y1="139.7" x2="1.4" y2="142.7" stroke="#666" stroke-width="0.75"/>
<line x1="4.6" y1="139.7" x2="4.6" y2="142.7" stroke="#666" stroke-width="0.75"/>
<line x1="7.3" y1="139.7" x2="7.3" y2="142.7" stroke="#666" stroke-width="0.75"/>
<line x1="10.3" y1="139.7" x2="10.3" y2="142.7" stroke="#666" stroke-width="0.75"/>
<line x1="18.4" y1="139.7" x2="18.4" y2="142.7" stroke="#666" stroke-width="0.75"/>
<line x1="21.1" y1="139.7" x2="21.1" y2="142.7" stroke="#666" stroke-width="0.75"/>
<line x1="24.2" y1="139.7" x2="24.2" y2="142.7" stroke="#666" stroke-width="0.75"/>
<line x1="26.6" y1="139.7" x2="26.6" y2="142.7" stroke="#666" stroke-width="0.75"/>
<text x="15.1" y="155.9" font-size="8" fill="#333" text-anchor="middle">0</text>
<text x="24" y="155.9" font-size="8" fill="#333">10</text>
<text x="32.5" y="152" font-size="6.4" fill="#333">2</text>
<text x="57.3" y="155.9" font-size="8" fill="#333">10</text>
<text x="65.8" y="152" font-size="6.4" fill="#333">3</text>
<text x="90.6" y="155.9" font-size="8" fill="#333">10</text>
<text x="99.1" y="152" font-size="6.4" fill="#333">4</text>
<text x="121.3" y="155.9" font-size="8" fill="#333">10</text>
<text x="129.8" y="152" font-size="6.4" fill="#333">5</text>
<text x="70.4" y="166.9" font-size="8.8" fill="#333" text-anchor="middle">mBBr</text>
</g>
<text transform="translate(212,258.9) scale(1.01,1)" font-size="22" fill="#000">ALL-2</text>
<g transform="translate(378.8,263.8)">
<path d="M32.51,139.2 C33.85,139.16 38.12,139.04 40.58,138.93 C43.05,138.82 45.07,138.59 47.32,138.53 C49.56,138.46 52.03,138.64 54.05,138.53 C56.07,138.41 57.86,138.01 59.43,137.85 C61,137.7 62.12,137.81 63.47,137.58 C64.82,137.36 66.39,136.91 67.51,136.51 C68.63,136.1 69.41,136.06 70.2,135.16 C70.99,134.26 71.55,132.24 72.22,131.12 C72.89,130 73.57,129.33 74.24,128.43 C74.91,127.53 75.63,126.86 76.26,125.74 C76.89,124.62 77.56,123.27 78.01,121.7 C78.46,120.13 78.64,118.78 78.95,116.32 C79.26,113.85 79.56,110.71 79.89,106.89 C80.23,103.08 80.61,98.37 80.97,93.43 C81.33,88.49 81.71,82.66 82.05,77.28 C82.38,71.89 82.72,66.51 82.99,61.12 C83.26,55.74 83.44,50.13 83.66,44.97 C83.89,39.81 84.11,34.65 84.33,30.16 C84.56,25.67 84.72,21.41 85.01,18.05 C85.3,14.68 85.82,11.54 86.08,9.97 C86.35,8.4 86.44,8.4 86.62,8.62 C86.8,8.85 86.94,9.3 87.16,11.32 C87.39,13.33 87.7,17.37 87.97,20.74 C88.24,24.1 88.53,27.69 88.78,31.51 C89.02,35.32 89.23,39.58 89.45,43.62 C89.67,47.66 89.9,51.48 90.12,55.74 C90.35,60 90.57,64.71 90.8,69.2 C91.02,73.69 91.24,78.62 91.47,82.66 C91.69,86.7 91.87,89.84 92.14,93.43 C92.41,97.02 92.75,101.06 93.08,104.2 C93.42,107.34 93.82,109.81 94.16,112.28 C94.5,114.74 94.72,117.21 95.1,119.01 C95.49,120.8 96,121.92 96.45,123.05 C96.9,124.17 97.35,124.84 97.8,125.74 C98.24,126.64 98.58,127.53 99.14,128.43 C99.7,129.33 100.49,130.11 101.16,131.12 C101.83,132.13 102.55,133.48 103.18,134.49 C103.81,135.5 104.37,136.4 104.93,137.18 C105.49,137.97 106.28,138.86 106.55,139.2 L106.55,139.7 Z" fill="#b9b9b9" stroke="#5a5a5a" stroke-width="0.9" stroke-linejoin="round"/>
<rect x="0" y="0" width="140.5" height="139.7" fill="none" stroke="#8a8a8a" stroke-width="1"/>
<line x1="140.5" y1="-0.5" x2="140.5" y2="139.7" stroke="#000" stroke-width="1.3"/>
<path d="M0.5,139.7 L17.7,139.7 L17.7,139.2 C18.37,138.98 20.5,138.64 21.74,137.85 C22.97,137.07 24.09,135.72 25.1,134.49 C26.11,133.25 27.01,132.02 27.8,130.45 C28.58,128.88 29.14,127.2 29.82,125.07 C30.49,122.93 31.27,120.24 31.83,117.66 C32.4,115.08 32.73,112.28 33.18,109.58 C33.63,106.89 34.15,104.2 34.53,101.51 C34.91,98.82 35.18,96.12 35.47,93.43 C35.76,90.74 36.05,88.05 36.28,85.35 C36.5,82.66 36.59,79.52 36.82,77.28 C37.04,75.03 37.4,74.14 37.62,71.89 C37.85,69.65 37.96,66.51 38.16,63.82 C38.36,61.12 38.61,58.43 38.83,55.74 C39.06,53.05 39.28,50.13 39.51,47.66 C39.73,45.19 39.89,42.95 40.18,40.93 C40.47,38.91 40.92,37.57 41.26,35.55 C41.59,33.53 41.91,30.83 42.2,28.82 C42.49,26.8 42.78,25.45 43.01,23.43 C43.23,21.41 43.28,18.72 43.55,16.7 C43.82,14.68 44.22,12.66 44.62,11.32 C45.03,9.97 45.52,8.85 45.97,8.62 C46.42,8.4 46.82,9.3 47.32,9.97 C47.81,10.64 48.53,11.76 48.93,12.66 C49.33,13.56 49.51,14.01 49.74,15.35 C49.96,16.7 50.05,18.94 50.28,20.74 C50.5,22.53 50.84,24.33 51.08,26.12 C51.33,27.92 51.53,29.26 51.76,31.51 C51.98,33.75 52.21,36.89 52.43,39.58 C52.66,42.28 52.88,44.97 53.1,47.66 C53.33,50.35 53.55,53.05 53.78,55.74 C54,58.43 54.23,61.57 54.45,63.82 C54.67,66.06 54.92,67.41 55.12,69.2 C55.32,70.99 55.46,72.79 55.66,74.58 C55.86,76.38 56.11,77.95 56.33,79.97 C56.56,81.99 56.76,84.46 57.01,86.7 C57.25,88.94 57.52,91.19 57.82,93.43 C58.11,95.67 58.44,97.92 58.76,100.16 C59.07,102.41 59.36,104.65 59.7,106.89 C60.04,109.14 60.42,111.38 60.78,113.62 C61.14,115.87 61.45,118.33 61.85,120.35 C62.26,122.37 62.71,124.06 63.2,125.74 C63.69,127.42 64.21,129.1 64.82,130.45 C65.42,131.8 66.16,132.92 66.83,133.82 C67.51,134.71 68.29,135.57 68.85,135.83 C69.41,136.1 69.64,135.43 70.2,135.43 C70.76,135.43 71.55,135.88 72.22,135.83 C72.89,135.79 73.57,135.39 74.24,135.16 C74.91,134.94 75.58,134.71 76.26,134.49 C76.93,134.26 77.6,134.04 78.28,133.82 C78.95,133.59 79.74,133.37 80.3,133.14 C80.86,132.92 81.19,132.24 81.64,132.47 C82.09,132.69 82.54,133.82 82.99,134.49 C83.44,135.16 83.77,135.95 84.33,136.51 C84.9,137.07 85.68,137.41 86.35,137.85 C87.03,138.3 88.04,138.98 88.37,139.2 L140,139.7" fill="none" stroke="#000" stroke-width="1.5" stroke-linejoin="round"/>
<line x1="-3.2" y1="139.7" x2="0" y2="139.7" stroke="#777" stroke-width="0.9"/>
<text x="-9.8" y="144.1" font-size="8.6" fill="#333" textLength="3.6" lengthAdjust="spacingAndGlyphs">0</text>
<line x1="-3.2" y1="113.06" x2="0" y2="113.06" stroke="#777" stroke-width="0.9"/>
<text x="-13.6" y="117.46" font-size="8.6" fill="#333" textLength="7.4" lengthAdjust="spacingAndGlyphs">20</text>
<line x1="-3.2" y1="86.42" x2="0" y2="86.42" stroke="#777" stroke-width="0.9"/>
<text x="-13.6" y="90.82" font-size="8.6" fill="#333" textLength="7.4" lengthAdjust="spacingAndGlyphs">40</text>
<line x1="-3.2" y1="59.78" x2="0" y2="59.78" stroke="#777" stroke-width="0.9"/>
<text x="-13.6" y="64.18" font-size="8.6" fill="#333" textLength="7.4" lengthAdjust="spacingAndGlyphs">60</text>
<line x1="-3.2" y1="33.14" x2="0" y2="33.14" stroke="#777" stroke-width="0.9"/>
<text x="-13.6" y="37.54" font-size="8.6" fill="#333" textLength="7.4" lengthAdjust="spacingAndGlyphs">80</text>
<line x1="-3.2" y1="6.5" x2="0" y2="6.5" stroke="#777" stroke-width="0.9"/>
<text x="-17.4" y="10.9" font-size="8.6" fill="#333" textLength="11.2" lengthAdjust="spacingAndGlyphs">100</text>
<line x1="-1.4" y1="133.04" x2="0" y2="133.04" stroke="#999" stroke-width="0.7"/>
<line x1="-1.4" y1="126.38" x2="0" y2="126.38" stroke="#999" stroke-width="0.7"/>
<line x1="-1.4" y1="119.72" x2="0" y2="119.72" stroke="#999" stroke-width="0.7"/>
<line x1="-1.4" y1="106.4" x2="0" y2="106.4" stroke="#999" stroke-width="0.7"/>
<line x1="-1.4" y1="99.74" x2="0" y2="99.74" stroke="#999" stroke-width="0.7"/>
<line x1="-1.4" y1="93.08" x2="0" y2="93.08" stroke="#999" stroke-width="0.7"/>
<line x1="-1.4" y1="79.76" x2="0" y2="79.76" stroke="#999" stroke-width="0.7"/>
<line x1="-1.4" y1="73.1" x2="0" y2="73.1" stroke="#999" stroke-width="0.7"/>
<line x1="-1.4" y1="66.44" x2="0" y2="66.44" stroke="#999" stroke-width="0.7"/>
<line x1="-1.4" y1="53.12" x2="0" y2="53.12" stroke="#999" stroke-width="0.7"/>
<line x1="-1.4" y1="46.46" x2="0" y2="46.46" stroke="#999" stroke-width="0.7"/>
<line x1="-1.4" y1="39.8" x2="0" y2="39.8" stroke="#999" stroke-width="0.7"/>
<line x1="-1.4" y1="26.48" x2="0" y2="26.48" stroke="#999" stroke-width="0.7"/>
<line x1="-1.4" y1="19.82" x2="0" y2="19.82" stroke="#999" stroke-width="0.7"/>
<line x1="-1.4" y1="13.16" x2="0" y2="13.16" stroke="#999" stroke-width="0.7"/>
<text transform="translate(-22.9,69.55) rotate(-90)" font-size="9.8" fill="#555" text-anchor="middle" textLength="44.6" lengthAdjust="spacingAndGlyphs">% of Max</text>
<line x1="14.5" y1="139.7" x2="14.5" y2="144" stroke="#555" stroke-width="0.9"/>
<line x1="30" y1="139.7" x2="30" y2="144" stroke="#555" stroke-width="0.9"/>
<line x1="63.3" y1="139.7" x2="63.3" y2="144" stroke="#555" stroke-width="0.9"/>
<line x1="96.6" y1="139.7" x2="96.6" y2="144" stroke="#555" stroke-width="0.9"/>
<line x1="127.3" y1="139.7" x2="127.3" y2="144" stroke="#555" stroke-width="0.9"/>
<line x1="40.02" y1="139.7" x2="40.02" y2="142.7" stroke="#666" stroke-width="0.75"/>
<line x1="45.89" y1="139.7" x2="45.89" y2="142.7" stroke="#666" stroke-width="0.75"/>
<line x1="50.05" y1="139.7" x2="50.05" y2="142.7" stroke="#666" stroke-width="0.75"/>
<line x1="53.28" y1="139.7" x2="53.28" y2="142.7" stroke="#666" stroke-width="0.75"/>
<line x1="55.91" y1="139.7" x2="55.91" y2="142.7" stroke="#666" stroke-width="0.75"/>
<line x1="58.14" y1="139.7" x2="58.14" y2="142.7" stroke="#666" stroke-width="0.75"/>
<line x1="60.07" y1="139.7" x2="60.07" y2="142.7" stroke="#666" stroke-width="0.75"/>
<line x1="61.78" y1="139.7" x2="61.78" y2="142.7" stroke="#666" stroke-width="0.75"/>
<line x1="73.32" y1="139.7" x2="73.32" y2="142.7" stroke="#666" stroke-width="0.75"/>
<line x1="79.19" y1="139.7" x2="79.19" y2="142.7" stroke="#666" stroke-width="0.75"/>
<line x1="83.35" y1="139.7" x2="83.35" y2="142.7" stroke="#666" stroke-width="0.75"/>
<line x1="86.58" y1="139.7" x2="86.58" y2="142.7" stroke="#666" stroke-width="0.75"/>
<line x1="89.21" y1="139.7" x2="89.21" y2="142.7" stroke="#666" stroke-width="0.75"/>
<line x1="91.44" y1="139.7" x2="91.44" y2="142.7" stroke="#666" stroke-width="0.75"/>
<line x1="93.37" y1="139.7" x2="93.37" y2="142.7" stroke="#666" stroke-width="0.75"/>
<line x1="95.08" y1="139.7" x2="95.08" y2="142.7" stroke="#666" stroke-width="0.75"/>
<line x1="105.84" y1="139.7" x2="105.84" y2="142.7" stroke="#666" stroke-width="0.75"/>
<line x1="111.25" y1="139.7" x2="111.25" y2="142.7" stroke="#666" stroke-width="0.75"/>
<line x1="115.08" y1="139.7" x2="115.08" y2="142.7" stroke="#666" stroke-width="0.75"/>
<line x1="118.06" y1="139.7" x2="118.06" y2="142.7" stroke="#666" stroke-width="0.75"/>
<line x1="120.49" y1="139.7" x2="120.49" y2="142.7" stroke="#666" stroke-width="0.75"/>
<line x1="122.54" y1="139.7" x2="122.54" y2="142.7" stroke="#666" stroke-width="0.75"/>
<line x1="124.32" y1="139.7" x2="124.32" y2="142.7" stroke="#666" stroke-width="0.75"/>
<line x1="125.9" y1="139.7" x2="125.9" y2="142.7" stroke="#666" stroke-width="0.75"/>
<line x1="1.4" y1="139.7" x2="1.4" y2="142.7" stroke="#666" stroke-width="0.75"/>
<line x1="4.6" y1="139.7" x2="4.6" y2="142.7" stroke="#666" stroke-width="0.75"/>
<line x1="7.3" y1="139.7" x2="7.3" y2="142.7" stroke="#666" stroke-width="0.75"/>
<line x1="10.3" y1="139.7" x2="10.3" y2="142.7" stroke="#666" stroke-width="0.75"/>
<line x1="18.4" y1="139.7" x2="18.4" y2="142.7" stroke="#666" stroke-width="0.75"/>
<line x1="21.1" y1="139.7" x2="21.1" y2="142.7" stroke="#666" stroke-width="0.75"/>
<line x1="24.2" y1="139.7" x2="24.2" y2="142.7" stroke="#666" stroke-width="0.75"/>
<line x1="26.6" y1="139.7" x2="26.6" y2="142.7" stroke="#666" stroke-width="0.75"/>
<text x="15.1" y="155.9" font-size="8" fill="#333" text-anchor="middle">0</text>
<text x="24" y="155.9" font-size="8" fill="#333">10</text>
<text x="32.5" y="152" font-size="6.4" fill="#333">2</text>
<text x="57.3" y="155.9" font-size="8" fill="#333">10</text>
<text x="65.8" y="152" font-size="6.4" fill="#333">3</text>
<text x="90.6" y="155.9" font-size="8" fill="#333">10</text>
<text x="99.1" y="152" font-size="6.4" fill="#333">4</text>
<text x="121.3" y="155.9" font-size="8" fill="#333">10</text>
<text x="129.8" y="152" font-size="6.4" fill="#333">5</text>
<text x="70.4" y="166.9" font-size="8.8" fill="#333" text-anchor="middle">mBBr</text>
</g>
<text transform="translate(390.2,258.9) scale(1.02,1)" font-size="22" fill="#000">ALL-3</text>
<g transform="translate(31.2,463.3)">
<path d="M19.99,139.7 C21.11,139.48 24.26,138.69 26.72,138.35 C29.19,138.02 32.11,137.79 34.8,137.68 C37.49,137.57 40.18,137.68 42.88,137.68 C45.57,137.68 48.71,137.91 50.95,137.68 C53.2,137.46 54.88,136.9 56.34,136.33 C57.8,135.77 58.69,135.21 59.7,134.32 C60.71,133.42 61.61,131.29 62.4,130.95 C63.18,130.61 63.74,132.3 64.42,132.3 C65.09,132.3 65.76,131.4 66.43,130.95 C67.11,130.5 67.89,130.05 68.45,129.6 C69.01,129.16 69.35,128.82 69.8,128.26 C70.25,127.7 70.7,127.02 71.15,126.24 C71.59,125.45 72.09,124.89 72.49,123.55 C72.9,122.2 73.23,120.41 73.57,118.16 C73.91,115.92 74.2,113.23 74.51,110.08 C74.83,106.94 75.16,103.35 75.45,99.32 C75.75,95.28 76.01,90.79 76.26,85.85 C76.51,80.92 76.71,75.08 76.93,69.7 C77.16,64.32 77.38,58.93 77.61,53.55 C77.83,48.16 78.06,42.33 78.28,37.39 C78.51,32.46 78.68,27.97 78.95,23.93 C79.22,19.89 79.56,15.63 79.9,13.16 C80.23,10.69 80.64,9.12 80.97,9.12 C81.31,9.12 81.65,11.14 81.92,13.16 C82.18,15.18 82.36,18.1 82.59,21.24 C82.81,24.38 83.01,28.42 83.26,32.01 C83.51,35.6 83.8,39.19 84.07,42.78 C84.34,46.37 84.61,50.41 84.88,53.55 C85.15,56.69 85.42,59.49 85.68,61.62 C85.95,63.75 86.18,65.44 86.49,66.33 C86.81,67.23 87.21,66.78 87.57,67.01 C87.93,67.23 88.29,66.78 88.65,67.68 C89.01,68.58 89.39,70.49 89.72,72.39 C90.06,74.3 90.4,76.88 90.67,79.12 C90.93,81.37 91.11,83.39 91.34,85.85 C91.56,88.32 91.79,91.24 92.01,93.93 C92.24,96.62 92.46,99.32 92.68,102.01 C92.91,104.7 93.13,107.39 93.36,110.08 C93.58,112.78 93.76,115.47 94.03,118.16 C94.3,120.85 94.64,123.77 94.97,126.24 C95.31,128.71 95.65,131.17 96.05,132.97 C96.45,134.76 96.84,136 97.4,137.01 C97.96,138.02 98.63,138.58 99.42,139.03 C100.2,139.48 101.66,139.59 102.11,139.7 L102.11,139.7 Z" fill="#b9b9b9" stroke="#5a5a5a" stroke-width="0.9" stroke-linejoin="round"/>
<rect x="0" y="0" width="140.2" height="139.7" fill="none" stroke="#8a8a8a" stroke-width="1"/>
<path d="M0.5,139.7 L11.92,139.7 L11.92,139.7 C12.36,139.14 13.76,137.79 14.61,136.33 C15.46,134.88 16.25,132.63 17.03,130.95 C17.82,129.27 18.6,128.37 19.32,126.24 C20.04,124.11 20.78,120.85 21.34,118.16 C21.9,115.47 22.28,112.78 22.68,110.08 C23.09,107.39 23.43,104.7 23.76,102.01 C24.1,99.32 24.43,96.62 24.7,93.93 C24.97,91.24 25.09,88.1 25.38,85.85 C25.67,83.61 26.16,82.71 26.45,80.47 C26.75,78.23 26.93,75.08 27.13,72.39 C27.33,69.7 27.46,67.01 27.67,64.32 C27.87,61.62 28.16,58.48 28.34,56.24 C28.52,53.99 28.52,52.2 28.74,50.85 C28.97,49.51 29.35,49.28 29.68,48.16 C30.02,47.04 30.36,46.14 30.76,44.12 C31.17,42.1 31.7,38.74 32.11,36.05 C32.51,33.35 32.85,28.87 33.18,27.97 C33.52,27.07 33.81,29.54 34.13,30.66 C34.44,31.78 34.73,35.37 35.07,34.7 C35.41,34.03 35.79,27.52 36.15,26.62 C36.51,25.73 36.82,29.32 37.22,29.32 C37.63,29.32 38.12,27.3 38.57,26.62 C39.02,25.95 39.53,26.17 39.92,25.28 C40.3,24.38 40.54,22.58 40.86,21.24 C41.17,19.89 41.46,18.55 41.8,17.2 C42.14,15.85 42.47,14.4 42.88,13.16 C43.28,11.93 43.77,10.51 44.22,9.8 C44.67,9.08 45.08,9.01 45.57,8.85 C46.06,8.7 46.78,8.36 47.18,8.85 C47.59,9.35 47.7,10.42 47.99,11.82 C48.28,13.21 48.62,16.19 48.93,17.2 C49.25,18.21 49.59,17.42 49.88,17.87 C50.17,18.32 50.39,18.66 50.68,19.89 C50.98,21.13 51.31,23.26 51.63,25.28 C51.94,27.3 52.28,29.99 52.57,32.01 C52.86,34.03 53.09,35.6 53.38,37.39 C53.67,39.19 54.01,40.53 54.32,42.78 C54.63,45.02 54.97,49.06 55.26,50.85 C55.55,52.65 55.84,52.2 56.07,53.55 C56.29,54.89 56.38,57.14 56.61,58.93 C56.83,60.73 57.12,62.52 57.42,64.32 C57.71,66.11 58.04,67.91 58.36,69.7 C58.67,71.49 58.96,73.29 59.3,75.08 C59.64,76.88 60.02,78.45 60.38,80.47 C60.74,82.49 61.12,84.96 61.45,87.2 C61.79,89.44 62.08,91.91 62.4,93.93 C62.71,95.95 63,97.52 63.34,99.32 C63.67,101.11 64.01,102.91 64.42,104.7 C64.82,106.49 65.31,108.29 65.76,110.08 C66.21,111.88 66.66,114.12 67.11,115.47 C67.56,116.82 68.01,117.94 68.45,118.16 C68.9,118.39 69.4,115.92 69.8,116.82 C70.2,117.71 70.54,121.98 70.88,123.55 C71.21,125.12 71.44,126.35 71.82,126.24 C72.2,126.13 72.72,123.43 73.17,122.87 C73.61,122.31 74.06,122.54 74.51,122.87 C74.96,123.21 75.41,124.78 75.86,124.89 C76.31,125 76.69,124.22 77.2,123.55 C77.72,122.87 78.44,120.85 78.95,120.85 C79.47,120.85 79.85,122.42 80.3,123.55 C80.75,124.67 81.15,126.35 81.65,127.58 C82.14,128.82 82.72,129.83 83.26,130.95 C83.8,132.07 84.32,133.31 84.88,134.32 C85.44,135.33 86,136.38 86.63,137.01 C87.26,137.64 87.86,137.82 88.65,138.08 C89.43,138.35 90.44,138.47 91.34,138.62 C92.24,138.78 93.13,138.89 94.03,139.03 C94.93,139.16 95.6,139.32 96.72,139.43 C97.84,139.54 100.09,139.66 100.76,139.7 L139.7,139.7" fill="none" stroke="#000" stroke-width="1.5" stroke-linejoin="round"/>
<line x1="-3.2" y1="139.7" x2="0" y2="139.7" stroke="#777" stroke-width="0.9"/>
<text x="-9.8" y="144.1" font-size="8.6" fill="#333" textLength="3.6" lengthAdjust="spacingAndGlyphs">0</text>
<line x1="-3.2" y1="113.06" x2="0" y2="113.06" stroke="#777" stroke-width="0.9"/>
<text x="-13.6" y="117.46" font-size="8.6" fill="#333" textLength="7.4" lengthAdjust="spacingAndGlyphs">20</text>
<line x1="-3.2" y1="86.42" x2="0" y2="86.42" stroke="#777" stroke-width="0.9"/>
<text x="-13.6" y="90.82" font-size="8.6" fill="#333" textLength="7.4" lengthAdjust="spacingAndGlyphs">40</text>
<line x1="-3.2" y1="59.78" x2="0" y2="59.78" stroke="#777" stroke-width="0.9"/>
<text x="-13.6" y="64.18" font-size="8.6" fill="#333" textLength="7.4" lengthAdjust="spacingAndGlyphs">60</text>
<line x1="-3.2" y1="33.14" x2="0" y2="33.14" stroke="#777" stroke-width="0.9"/>
<text x="-13.6" y="37.54" font-size="8.6" fill="#333" textLength="7.4" lengthAdjust="spacingAndGlyphs">80</text>
<line x1="-3.2" y1="6.5" x2="0" y2="6.5" stroke="#777" stroke-width="0.9"/>
<text x="-17.4" y="10.9" font-size="8.6" fill="#333" textLength="11.2" lengthAdjust="spacingAndGlyphs">100</text>
<line x1="-1.4" y1="133.04" x2="0" y2="133.04" stroke="#999" stroke-width="0.7"/>
<line x1="-1.4" y1="126.38" x2="0" y2="126.38" stroke="#999" stroke-width="0.7"/>
<line x1="-1.4" y1="119.72" x2="0" y2="119.72" stroke="#999" stroke-width="0.7"/>
<line x1="-1.4" y1="106.4" x2="0" y2="106.4" stroke="#999" stroke-width="0.7"/>
<line x1="-1.4" y1="99.74" x2="0" y2="99.74" stroke="#999" stroke-width="0.7"/>
<line x1="-1.4" y1="93.08" x2="0" y2="93.08" stroke="#999" stroke-width="0.7"/>
<line x1="-1.4" y1="79.76" x2="0" y2="79.76" stroke="#999" stroke-width="0.7"/>
<line x1="-1.4" y1="73.1" x2="0" y2="73.1" stroke="#999" stroke-width="0.7"/>
<line x1="-1.4" y1="66.44" x2="0" y2="66.44" stroke="#999" stroke-width="0.7"/>
<line x1="-1.4" y1="53.12" x2="0" y2="53.12" stroke="#999" stroke-width="0.7"/>
<line x1="-1.4" y1="46.46" x2="0" y2="46.46" stroke="#999" stroke-width="0.7"/>
<line x1="-1.4" y1="39.8" x2="0" y2="39.8" stroke="#999" stroke-width="0.7"/>
<line x1="-1.4" y1="26.48" x2="0" y2="26.48" stroke="#999" stroke-width="0.7"/>
<line x1="-1.4" y1="19.82" x2="0" y2="19.82" stroke="#999" stroke-width="0.7"/>
<line x1="-1.4" y1="13.16" x2="0" y2="13.16" stroke="#999" stroke-width="0.7"/>
<text transform="translate(-22.9,69.55) rotate(-90)" font-size="9.8" fill="#555" text-anchor="middle" textLength="44.6" lengthAdjust="spacingAndGlyphs">% of Max</text>
<line x1="14.5" y1="139.7" x2="14.5" y2="144" stroke="#555" stroke-width="0.9"/>
<line x1="30" y1="139.7" x2="30" y2="144" stroke="#555" stroke-width="0.9"/>
<line x1="63.3" y1="139.7" x2="63.3" y2="144" stroke="#555" stroke-width="0.9"/>
<line x1="96.6" y1="139.7" x2="96.6" y2="144" stroke="#555" stroke-width="0.9"/>
<line x1="127.3" y1="139.7" x2="127.3" y2="144" stroke="#555" stroke-width="0.9"/>
<line x1="40.02" y1="139.7" x2="40.02" y2="142.7" stroke="#666" stroke-width="0.75"/>
<line x1="45.89" y1="139.7" x2="45.89" y2="142.7" stroke="#666" stroke-width="0.75"/>
<line x1="50.05" y1="139.7" x2="50.05" y2="142.7" stroke="#666" stroke-width="0.75"/>
<line x1="53.28" y1="139.7" x2="53.28" y2="142.7" stroke="#666" stroke-width="0.75"/>
<line x1="55.91" y1="139.7" x2="55.91" y2="142.7" stroke="#666" stroke-width="0.75"/>
<line x1="58.14" y1="139.7" x2="58.14" y2="142.7" stroke="#666" stroke-width="0.75"/>
<line x1="60.07" y1="139.7" x2="60.07" y2="142.7" stroke="#666" stroke-width="0.75"/>
<line x1="61.78" y1="139.7" x2="61.78" y2="142.7" stroke="#666" stroke-width="0.75"/>
<line x1="73.32" y1="139.7" x2="73.32" y2="142.7" stroke="#666" stroke-width="0.75"/>
<line x1="79.19" y1="139.7" x2="79.19" y2="142.7" stroke="#666" stroke-width="0.75"/>
<line x1="83.35" y1="139.7" x2="83.35" y2="142.7" stroke="#666" stroke-width="0.75"/>
<line x1="86.58" y1="139.7" x2="86.58" y2="142.7" stroke="#666" stroke-width="0.75"/>
<line x1="89.21" y1="139.7" x2="89.21" y2="142.7" stroke="#666" stroke-width="0.75"/>
<line x1="91.44" y1="139.7" x2="91.44" y2="142.7" stroke="#666" stroke-width="0.75"/>
<line x1="93.37" y1="139.7" x2="93.37" y2="142.7" stroke="#666" stroke-width="0.75"/>
<line x1="95.08" y1="139.7" x2="95.08" y2="142.7" stroke="#666" stroke-width="0.75"/>
<line x1="105.84" y1="139.7" x2="105.84" y2="142.7" stroke="#666" stroke-width="0.75"/>
<line x1="111.25" y1="139.7" x2="111.25" y2="142.7" stroke="#666" stroke-width="0.75"/>
<line x1="115.08" y1="139.7" x2="115.08" y2="142.7" stroke="#666" stroke-width="0.75"/>
<line x1="118.06" y1="139.7" x2="118.06" y2="142.7" stroke="#666" stroke-width="0.75"/>
<line x1="120.49" y1="139.7" x2="120.49" y2="142.7" stroke="#666" stroke-width="0.75"/>
<line x1="122.54" y1="139.7" x2="122.54" y2="142.7" stroke="#666" stroke-width="0.75"/>
<line x1="124.32" y1="139.7" x2="124.32" y2="142.7" stroke="#666" stroke-width="0.75"/>
<line x1="125.9" y1="139.7" x2="125.9" y2="142.7" stroke="#666" stroke-width="0.75"/>
<line x1="1.4" y1="139.7" x2="1.4" y2="142.7" stroke="#666" stroke-width="0.75"/>
<line x1="4.6" y1="139.7" x2="4.6" y2="142.7" stroke="#666" stroke-width="0.75"/>
<line x1="7.3" y1="139.7" x2="7.3" y2="142.7" stroke="#666" stroke-width="0.75"/>
<line x1="10.3" y1="139.7" x2="10.3" y2="142.7" stroke="#666" stroke-width="0.75"/>
<line x1="18.4" y1="139.7" x2="18.4" y2="142.7" stroke="#666" stroke-width="0.75"/>
<line x1="21.1" y1="139.7" x2="21.1" y2="142.7" stroke="#666" stroke-width="0.75"/>
<line x1="24.2" y1="139.7" x2="24.2" y2="142.7" stroke="#666" stroke-width="0.75"/>
<line x1="26.6" y1="139.7" x2="26.6" y2="142.7" stroke="#666" stroke-width="0.75"/>
<text x="15.1" y="155.9" font-size="8" fill="#333" text-anchor="middle">0</text>
<text x="24" y="155.9" font-size="8" fill="#333">10</text>
<text x="32.5" y="152" font-size="6.4" fill="#333">2</text>
<text x="57.3" y="155.9" font-size="8" fill="#333">10</text>
<text x="65.8" y="152" font-size="6.4" fill="#333">3</text>
<text x="90.6" y="155.9" font-size="8" fill="#333">10</text>
<text x="99.1" y="152" font-size="6.4" fill="#333">4</text>
<text x="121.3" y="155.9" font-size="8" fill="#333">10</text>
<text x="129.8" y="152" font-size="6.4" fill="#333">5</text>
<text x="70.4" y="166.9" font-size="8.8" fill="#333" text-anchor="middle">mBBr</text>
</g>
<text transform="translate(34.6,457.6) scale(0.99,1)" font-size="22" fill="#000">CLL-1</text>
<g transform="translate(205.6,463.3)">
<path d="M18.25,139.7 C18.92,139.36 20.94,138.24 22.28,137.68 C23.63,137.12 24.98,136.56 26.32,136.33 C27.67,136.11 29.02,136.33 30.36,136.33 C31.71,136.33 33.05,136.33 34.4,136.33 C35.75,136.33 37.09,136.56 38.44,136.33 C39.78,136.11 41.13,135.21 42.48,134.99 C43.82,134.76 45.28,135.1 46.52,134.99 C47.75,134.88 48.76,134.43 49.88,134.32 C51,134.2 52.01,134.2 53.25,134.32 C54.48,134.43 55.94,134.99 57.28,134.99 C58.63,134.99 60.2,134.76 61.32,134.32 C62.44,133.87 63.12,132.86 64.02,132.3 C64.91,131.74 65.81,131.74 66.71,130.95 C67.61,130.16 68.61,128.82 69.4,127.58 C70.19,126.35 70.86,125.12 71.42,123.55 C71.98,121.98 72.38,120.41 72.77,118.16 C73.15,115.92 73.42,113.23 73.71,110.08 C74,106.94 74.27,103.35 74.52,99.32 C74.76,95.28 74.96,90.34 75.19,85.85 C75.41,81.37 75.64,76.88 75.86,72.39 C76.09,67.91 76.31,63.42 76.53,58.93 C76.76,54.44 76.98,49.96 77.21,45.47 C77.43,40.98 77.66,36.05 77.88,32.01 C78.11,27.97 78.31,24.38 78.55,21.24 C78.8,18.1 79.09,15.18 79.36,13.16 C79.63,11.14 79.9,9.91 80.17,9.12 C80.44,8.34 80.71,8 80.98,8.45 C81.25,8.9 81.47,10.58 81.78,11.82 C82.1,13.05 82.5,14.73 82.86,15.85 C83.22,16.98 83.6,18.32 83.94,18.55 C84.28,18.77 84.57,16.98 84.88,17.2 C85.19,17.42 85.49,18.55 85.82,19.89 C86.16,21.24 86.56,23.26 86.9,25.28 C87.24,27.3 87.55,29.54 87.84,32.01 C88.13,34.48 88.36,36.94 88.65,40.08 C88.94,43.23 89.32,47.26 89.59,50.85 C89.86,54.44 90.04,58.03 90.27,61.62 C90.49,65.21 90.71,68.8 90.94,72.39 C91.16,75.98 91.39,79.57 91.61,83.16 C91.84,86.75 92.06,90.34 92.28,93.93 C92.51,97.52 92.73,101.33 92.96,104.7 C93.18,108.07 93.38,110.98 93.63,114.12 C93.88,117.26 94.15,120.85 94.44,123.55 C94.73,126.24 95.07,128.48 95.38,130.28 C95.69,132.07 95.83,133.19 96.32,134.32 C96.82,135.44 97.56,136.33 98.34,137.01 C99.13,137.68 100.14,138.02 101.03,138.35 C101.93,138.69 102.94,138.8 103.73,139.03 C104.51,139.25 105.41,139.59 105.75,139.7 L105.75,139.7 Z" fill="#b9b9b9" stroke="#5a5a5a" stroke-width="0.9" stroke-linejoin="round"/>
<rect x="0" y="0" width="140.2" height="139.7" fill="none" stroke="#8a8a8a" stroke-width="1"/>
<path d="M0.5,139.7 L11.52,139.7 L11.52,139.7 C12.08,139.03 13.87,137.12 14.88,135.66 C15.89,134.2 16.79,132.63 17.57,130.95 C18.36,129.27 18.92,127.7 19.59,125.57 C20.27,123.43 20.98,120.52 21.61,118.16 C22.24,115.81 22.8,113.67 23.36,111.43 C23.92,109.19 24.48,106.94 24.98,104.7 C25.47,102.46 25.87,100.21 26.32,97.97 C26.77,95.73 27.22,93.26 27.67,91.24 C28.12,89.22 28.57,87.65 29.02,85.85 C29.46,84.06 29.96,82.04 30.36,80.47 C30.77,78.9 31.1,77.78 31.44,76.43 C31.78,75.08 32.11,73.96 32.38,72.39 C32.65,70.82 32.81,68.8 33.05,67.01 C33.3,65.21 33.59,63.19 33.86,61.62 C34.13,60.05 34.4,59.38 34.67,57.58 C34.94,55.79 35.21,53.1 35.48,50.85 C35.75,48.61 36.02,46.14 36.28,44.12 C36.55,42.1 36.82,40.53 37.09,38.74 C37.36,36.94 37.63,35.15 37.9,33.35 C38.17,31.56 38.44,29.76 38.71,27.97 C38.98,26.17 39.22,23.71 39.52,22.58 C39.81,21.46 40.19,22.36 40.46,21.24 C40.73,20.12 40.91,17.65 41.13,15.85 C41.36,14.06 41.58,11.64 41.8,10.47 C42.03,9.3 42.14,8.74 42.48,8.85 C42.81,8.97 43.37,10.42 43.82,11.14 C44.27,11.86 44.72,12.15 45.17,13.16 C45.62,14.17 46.11,15.85 46.52,17.2 C46.92,18.55 47.26,19.22 47.59,21.24 C47.93,23.26 48.27,26.4 48.53,29.32 C48.8,32.23 48.98,36.05 49.21,38.74 C49.43,41.43 49.66,43 49.88,45.47 C50.11,47.94 50.33,50.85 50.55,53.55 C50.78,56.24 51,58.93 51.23,61.62 C51.45,64.32 51.68,67.46 51.9,69.7 C52.12,71.94 52.35,73.29 52.57,75.08 C52.8,76.88 53.02,78.67 53.25,80.47 C53.47,82.26 53.69,83.61 53.92,85.85 C54.14,88.1 54.3,91.69 54.59,93.93 C54.88,96.17 55.33,97.52 55.67,99.32 C56.01,101.11 56.3,103.13 56.61,104.7 C56.93,106.27 57.22,107.39 57.55,108.74 C57.89,110.08 58.27,111.66 58.63,112.78 C58.99,113.9 59.3,114.57 59.71,115.47 C60.11,116.37 60.56,117.26 61.05,118.16 C61.55,119.06 62.18,120.07 62.67,120.85 C63.16,121.64 63.57,122.31 64.02,122.87 C64.46,123.43 64.91,123.66 65.36,124.22 C65.81,124.78 66.26,125.57 66.71,126.24 C67.16,126.91 67.61,127.7 68.05,128.26 C68.5,128.82 68.95,129.16 69.4,129.6 C69.85,130.05 70.3,130.39 70.75,130.95 C71.19,131.51 71.53,132.3 72.09,132.97 C72.65,133.64 73.44,134.43 74.11,134.99 C74.78,135.55 75.35,135.89 76.13,136.33 C76.92,136.78 77.7,137.34 78.82,137.68 C79.94,138.02 81.52,138.13 82.86,138.35 C84.21,138.58 85.55,138.85 86.9,139.03 C88.25,139.21 89.37,139.32 90.94,139.43 C92.51,139.54 95.43,139.66 96.32,139.7 L139.7,139.7" fill="none" stroke="#000" stroke-width="1.5" stroke-linejoin="round"/>
<line x1="-3.2" y1="139.7" x2="0" y2="139.7" stroke="#777" stroke-width="0.9"/>
<text x="-9.8" y="144.1" font-size="8.6" fill="#333" textLength="3.6" lengthAdjust="spacingAndGlyphs">0</text>
<line x1="-3.2" y1="113.06" x2="0" y2="113.06" stroke="#777" stroke-width="0.9"/>
<text x="-13.6" y="117.46" font-size="8.6" fill="#333" textLength="7.4" lengthAdjust="spacingAndGlyphs">20</text>
<line x1="-3.2" y1="86.42" x2="0" y2="86.42" stroke="#777" stroke-width="0.9"/>
<text x="-13.6" y="90.82" font-size="8.6" fill="#333" textLength="7.4" lengthAdjust="spacingAndGlyphs">40</text>
<line x1="-3.2" y1="59.78" x2="0" y2="59.78" stroke="#777" stroke-width="0.9"/>
<text x="-13.6" y="64.18" font-size="8.6" fill="#333" textLength="7.4" lengthAdjust="spacingAndGlyphs">60</text>
<line x1="-3.2" y1="33.14" x2="0" y2="33.14" stroke="#777" stroke-width="0.9"/>
<text x="-13.6" y="37.54" font-size="8.6" fill="#333" textLength="7.4" lengthAdjust="spacingAndGlyphs">80</text>
<line x1="-3.2" y1="6.5" x2="0" y2="6.5" stroke="#777" stroke-width="0.9"/>
<text x="-17.4" y="10.9" font-size="8.6" fill="#333" textLength="11.2" lengthAdjust="spacingAndGlyphs">100</text>
<line x1="-1.4" y1="133.04" x2="0" y2="133.04" stroke="#999" stroke-width="0.7"/>
<line x1="-1.4" y1="126.38" x2="0" y2="126.38" stroke="#999" stroke-width="0.7"/>
<line x1="-1.4" y1="119.72" x2="0" y2="119.72" stroke="#999" stroke-width="0.7"/>
<line x1="-1.4" y1="106.4" x2="0" y2="106.4" stroke="#999" stroke-width="0.7"/>
<line x1="-1.4" y1="99.74" x2="0" y2="99.74" stroke="#999" stroke-width="0.7"/>
<line x1="-1.4" y1="93.08" x2="0" y2="93.08" stroke="#999" stroke-width="0.7"/>
<line x1="-1.4" y1="79.76" x2="0" y2="79.76" stroke="#999" stroke-width="0.7"/>
<line x1="-1.4" y1="73.1" x2="0" y2="73.1" stroke="#999" stroke-width="0.7"/>
<line x1="-1.4" y1="66.44" x2="0" y2="66.44" stroke="#999" stroke-width="0.7"/>
<line x1="-1.4" y1="53.12" x2="0" y2="53.12" stroke="#999" stroke-width="0.7"/>
<line x1="-1.4" y1="46.46" x2="0" y2="46.46" stroke="#999" stroke-width="0.7"/>
<line x1="-1.4" y1="39.8" x2="0" y2="39.8" stroke="#999" stroke-width="0.7"/>
<line x1="-1.4" y1="26.48" x2="0" y2="26.48" stroke="#999" stroke-width="0.7"/>
<line x1="-1.4" y1="19.82" x2="0" y2="19.82" stroke="#999" stroke-width="0.7"/>
<line x1="-1.4" y1="13.16" x2="0" y2="13.16" stroke="#999" stroke-width="0.7"/>
<text transform="translate(-22.9,69.55) rotate(-90)" font-size="9.8" fill="#555" text-anchor="middle" textLength="44.6" lengthAdjust="spacingAndGlyphs">% of Max</text>
<line x1="14.5" y1="139.7" x2="14.5" y2="144" stroke="#555" stroke-width="0.9"/>
<line x1="30" y1="139.7" x2="30" y2="144" stroke="#555" stroke-width="0.9"/>
<line x1="63.3" y1="139.7" x2="63.3" y2="144" stroke="#555" stroke-width="0.9"/>
<line x1="96.6" y1="139.7" x2="96.6" y2="144" stroke="#555" stroke-width="0.9"/>
<line x1="127.3" y1="139.7" x2="127.3" y2="144" stroke="#555" stroke-width="0.9"/>
<line x1="40.02" y1="139.7" x2="40.02" y2="142.7" stroke="#666" stroke-width="0.75"/>
<line x1="45.89" y1="139.7" x2="45.89" y2="142.7" stroke="#666" stroke-width="0.75"/>
<line x1="50.05" y1="139.7" x2="50.05" y2="142.7" stroke="#666" stroke-width="0.75"/>
<line x1="53.28" y1="139.7" x2="53.28" y2="142.7" stroke="#666" stroke-width="0.75"/>
<line x1="55.91" y1="139.7" x2="55.91" y2="142.7" stroke="#666" stroke-width="0.75"/>
<line x1="58.14" y1="139.7" x2="58.14" y2="142.7" stroke="#666" stroke-width="0.75"/>
<line x1="60.07" y1="139.7" x2="60.07" y2="142.7" stroke="#666" stroke-width="0.75"/>
<line x1="61.78" y1="139.7" x2="61.78" y2="142.7" stroke="#666" stroke-width="0.75"/>
<line x1="73.32" y1="139.7" x2="73.32" y2="142.7" stroke="#666" stroke-width="0.75"/>
<line x1="79.19" y1="139.7" x2="79.19" y2="142.7" stroke="#666" stroke-width="0.75"/>
<line x1="83.35" y1="139.7" x2="83.35" y2="142.7" stroke="#666" stroke-width="0.75"/>
<line x1="86.58" y1="139.7" x2="86.58" y2="142.7" stroke="#666" stroke-width="0.75"/>
<line x1="89.21" y1="139.7" x2="89.21" y2="142.7" stroke="#666" stroke-width="0.75"/>
<line x1="91.44" y1="139.7" x2="91.44" y2="142.7" stroke="#666" stroke-width="0.75"/>
<line x1="93.37" y1="139.7" x2="93.37" y2="142.7" stroke="#666" stroke-width="0.75"/>
<line x1="95.08" y1="139.7" x2="95.08" y2="142.7" stroke="#666" stroke-width="0.75"/>
<line x1="105.84" y1="139.7" x2="105.84" y2="142.7" stroke="#666" stroke-width="0.75"/>
<line x1="111.25" y1="139.7" x2="111.25" y2="142.7" stroke="#666" stroke-width="0.75"/>
<line x1="115.08" y1="139.7" x2="115.08" y2="142.7" stroke="#666" stroke-width="0.75"/>
<line x1="118.06" y1="139.7" x2="118.06" y2="142.7" stroke="#666" stroke-width="0.75"/>
<line x1="120.49" y1="139.7" x2="120.49" y2="142.7" stroke="#666" stroke-width="0.75"/>
<line x1="122.54" y1="139.7" x2="122.54" y2="142.7" stroke="#666" stroke-width="0.75"/>
<line x1="124.32" y1="139.7" x2="124.32" y2="142.7" stroke="#666" stroke-width="0.75"/>
<line x1="125.9" y1="139.7" x2="125.9" y2="142.7" stroke="#666" stroke-width="0.75"/>
<line x1="1.4" y1="139.7" x2="1.4" y2="142.7" stroke="#666" stroke-width="0.75"/>
<line x1="4.6" y1="139.7" x2="4.6" y2="142.7" stroke="#666" stroke-width="0.75"/>
<line x1="7.3" y1="139.7" x2="7.3" y2="142.7" stroke="#666" stroke-width="0.75"/>
<line x1="10.3" y1="139.7" x2="10.3" y2="142.7" stroke="#666" stroke-width="0.75"/>
<line x1="18.4" y1="139.7" x2="18.4" y2="142.7" stroke="#666" stroke-width="0.75"/>
<line x1="21.1" y1="139.7" x2="21.1" y2="142.7" stroke="#666" stroke-width="0.75"/>
<line x1="24.2" y1="139.7" x2="24.2" y2="142.7" stroke="#666" stroke-width="0.75"/>
<line x1="26.6" y1="139.7" x2="26.6" y2="142.7" stroke="#666" stroke-width="0.75"/>
<text x="15.1" y="155.9" font-size="8" fill="#333" text-anchor="middle">0</text>
<text x="24" y="155.9" font-size="8" fill="#333">10</text>
<text x="32.5" y="152" font-size="6.4" fill="#333">2</text>
<text x="57.3" y="155.9" font-size="8" fill="#333">10</text>
<text x="65.8" y="152" font-size="6.4" fill="#333">3</text>
<text x="90.6" y="155.9" font-size="8" fill="#333">10</text>
<text x="99.1" y="152" font-size="6.4" fill="#333">4</text>
<text x="121.3" y="155.9" font-size="8" fill="#333">10</text>
<text x="129.8" y="152" font-size="6.4" fill="#333">5</text>
<text x="70.4" y="166.9" font-size="8.8" fill="#333" text-anchor="middle">mBBr</text>
</g>
<text transform="translate(212,457.4) scale(1.01,1)" font-size="22" fill="#000">CLL-2</text>
<g transform="translate(378.8,463.3)">
<path d="M21.74,139.7 C23.76,139.59 29.59,139.18 33.85,139.03 C38.12,138.87 43.5,138.87 47.32,138.76 C51.13,138.65 54.27,138.65 56.74,138.35 C59.21,138.06 60.78,137.57 62.12,137.01 C63.47,136.45 63.92,135.21 64.82,134.99 C65.71,134.76 66.61,135.66 67.51,135.66 C68.41,135.66 69.41,135.21 70.2,134.99 C70.99,134.76 71.66,134.65 72.22,134.32 C72.78,133.98 73.12,133.87 73.57,132.97 C74.01,132.07 74.53,130.95 74.91,128.93 C75.29,126.91 75.56,123.99 75.85,120.85 C76.15,117.71 76.41,114.12 76.66,110.08 C76.91,106.05 77.11,101.11 77.33,96.62 C77.56,92.14 77.78,87.65 78.01,83.16 C78.23,78.67 78.46,74.19 78.68,69.7 C78.91,65.21 79.13,60.73 79.35,56.24 C79.58,51.75 79.8,47.04 80.03,42.78 C80.25,38.51 80.48,34.25 80.7,30.66 C80.92,27.07 81.15,23.93 81.37,21.24 C81.6,18.55 81.78,16.53 82.05,14.51 C82.32,12.49 82.67,9.8 82.99,9.12 C83.3,8.45 83.59,9.35 83.93,10.47 C84.27,11.59 84.72,13.61 85.01,15.85 C85.3,18.1 85.46,20.79 85.68,23.93 C85.91,27.07 86.13,31.11 86.35,34.7 C86.58,38.29 86.8,41.88 87.03,45.47 C87.25,49.06 87.48,52.65 87.7,56.24 C87.92,59.83 88.15,63.42 88.37,67.01 C88.6,70.6 88.82,74.41 89.05,77.78 C89.27,81.14 89.49,84.06 89.72,87.2 C89.94,90.34 90.17,93.71 90.39,96.62 C90.62,99.54 90.84,102.68 91.07,104.7 C91.29,106.72 91.51,107.62 91.74,108.74 C91.96,109.86 92.19,110.31 92.41,111.43 C92.64,112.55 92.86,114.35 93.08,115.47 C93.31,116.59 93.53,117.04 93.76,118.16 C93.98,119.28 94.21,120.85 94.43,122.2 C94.66,123.55 94.81,124.89 95.1,126.24 C95.4,127.58 95.73,128.93 96.18,130.28 C96.63,131.62 97.19,132.97 97.8,134.32 C98.4,135.66 99.21,137.46 99.82,138.35 C100.42,139.25 101.16,139.48 101.43,139.7 L101.43,139.7 Z" fill="#b9b9b9" stroke="#5a5a5a" stroke-width="0.9" stroke-linejoin="round"/>
<rect x="0" y="0" width="140.5" height="139.7" fill="none" stroke="#8a8a8a" stroke-width="1"/>
<line x1="140.5" y1="-0.5" x2="140.5" y2="139.7" stroke="#000" stroke-width="1.3"/>
<path d="M0.5,139.7 L12.32,139.7 L12.32,139.7 C12.99,139.36 15.01,138.47 16.35,137.68 C17.7,136.9 19.38,135.89 20.39,134.99 C21.4,134.09 21.78,133.42 22.41,132.3 C23.04,131.17 23.49,129.38 24.16,128.26 C24.83,127.14 25.73,126.58 26.45,125.57 C27.17,124.56 27.91,123.43 28.47,122.2 C29.03,120.97 29.41,119.51 29.82,118.16 C30.22,116.82 30.44,114.91 30.89,114.12 C31.34,113.34 32.06,114.35 32.51,113.45 C32.96,112.55 33.25,110.2 33.58,108.74 C33.92,107.28 34.21,106.27 34.53,104.7 C34.84,103.13 35.13,101.11 35.47,99.32 C35.81,97.52 36.19,95.16 36.55,93.93 C36.91,92.7 37.17,92.25 37.62,91.91 C38.07,91.57 38.81,92.7 39.24,91.91 C39.66,91.13 39.89,88.66 40.18,87.2 C40.47,85.74 40.7,84.17 40.99,83.16 C41.28,82.15 41.59,82.04 41.93,81.14 C42.27,80.24 42.72,79.24 43.01,77.78 C43.3,76.32 43.41,74.19 43.68,72.39 C43.95,70.6 44.29,68.8 44.62,67.01 C44.96,65.21 45.36,63.19 45.7,61.62 C46.04,60.05 46.33,58.71 46.64,57.58 C46.96,56.46 47.29,54.67 47.58,54.89 C47.88,55.12 48.17,59.6 48.39,58.93 C48.62,58.26 48.75,54.22 48.93,50.85 C49.11,47.49 49.29,39.86 49.47,38.74 C49.65,37.62 49.81,43 50.01,44.12 C50.21,45.24 50.46,46.14 50.68,45.47 C50.91,44.8 51.06,42.1 51.35,40.08 C51.65,38.07 52.09,35.37 52.43,33.35 C52.77,31.33 53.06,29.54 53.37,27.97 C53.69,26.4 53.98,24.49 54.32,23.93 C54.65,23.37 55.1,25.5 55.39,24.6 C55.68,23.71 55.84,20.45 56.07,18.55 C56.29,16.64 56.45,14.78 56.74,13.16 C57.03,11.55 57.48,8.85 57.82,8.85 C58.15,8.85 58.49,11.32 58.76,13.16 C59.03,15 59.14,19.22 59.43,19.89 C59.72,20.57 60.17,17.65 60.51,17.2 C60.84,16.75 61.07,16.98 61.45,17.2 C61.83,17.42 62.41,17.87 62.8,18.55 C63.18,19.22 63.4,19.89 63.74,21.24 C64.08,22.58 64.46,25.05 64.82,26.62 C65.17,28.19 65.56,29.54 65.89,30.66 C66.23,31.78 66.52,32.23 66.83,33.35 C67.15,34.48 67.44,35.6 67.78,37.39 C68.11,39.19 68.56,43.9 68.85,44.12 C69.15,44.35 69.3,39.86 69.53,38.74 C69.75,37.62 69.98,36.49 70.2,37.39 C70.42,38.29 70.6,41.88 70.87,44.12 C71.14,46.37 71.48,48.83 71.82,50.85 C72.15,52.87 72.49,54.89 72.89,56.24 C73.3,57.58 73.79,57.58 74.24,58.93 C74.69,60.28 75.14,62.97 75.58,64.32 C76.03,65.66 76.48,66.11 76.93,67.01 C77.38,67.91 77.83,68.8 78.28,69.7 C78.73,70.6 79.22,71.49 79.62,72.39 C80.03,73.29 80.36,73.74 80.7,75.08 C81.04,76.43 81.33,78.67 81.64,80.47 C81.96,82.26 82.25,84.06 82.58,85.85 C82.92,87.65 83.26,89.44 83.66,91.24 C84.07,93.03 84.56,94.83 85.01,96.62 C85.46,98.42 85.95,100.21 86.35,102.01 C86.76,103.8 87.09,105.6 87.43,107.39 C87.77,109.19 88.06,110.98 88.37,112.78 C88.69,114.57 88.98,116.37 89.32,118.16 C89.65,119.96 89.99,121.98 90.39,123.55 C90.8,125.12 91.24,126.35 91.74,127.58 C92.23,128.82 92.79,129.94 93.35,130.95 C93.91,131.96 94.48,132.74 95.1,133.64 C95.73,134.54 96.45,135.55 97.12,136.33 C97.8,137.12 98.47,137.79 99.14,138.35 C99.82,138.91 100.82,139.48 101.16,139.7 L140,139.7" fill="none" stroke="#000" stroke-width="1.5" stroke-linejoin="round"/>
<line x1="-3.2" y1="139.7" x2="0" y2="139.7" stroke="#777" stroke-width="0.9"/>
<text x="-9.8" y="144.1" font-size="8.6" fill="#333" textLength="3.6" lengthAdjust="spacingAndGlyphs">0</text>
<line x1="-3.2" y1="113.06" x2="0" y2="113.06" stroke="#777" stroke-width="0.9"/>
<text x="-13.6" y="117.46" font-size="8.6" fill="#333" textLength="7.4" lengthAdjust="spacingAndGlyphs">20</text>
<line x1="-3.2" y1="86.42" x2="0" y2="86.42" stroke="#777" stroke-width="0.9"/>
<text x="-13.6" y="90.82" font-size="8.6" fill="#333" textLength="7.4" lengthAdjust="spacingAndGlyphs">40</text>
<line x1="-3.2" y1="59.78" x2="0" y2="59.78" stroke="#777" stroke-width="0.9"/>
<text x="-13.6" y="64.18" font-size="8.6" fill="#333" textLength="7.4" lengthAdjust="spacingAndGlyphs">60</text>
<line x1="-3.2" y1="33.14" x2="0" y2="33.14" stroke="#777" stroke-width="0.9"/>
<text x="-13.6" y="37.54" font-size="8.6" fill="#333" textLength="7.4" lengthAdjust="spacingAndGlyphs">80</text>
<line x1="-3.2" y1="6.5" x2="0" y2="6.5" stroke="#777" stroke-width="0.9"/>
<text x="-17.4" y="10.9" font-size="8.6" fill="#333" textLength="11.2" lengthAdjust="spacingAndGlyphs">100</text>
<line x1="-1.4" y1="133.04" x2="0" y2="133.04" stroke="#999" stroke-width="0.7"/>
<line x1="-1.4" y1="126.38" x2="0" y2="126.38" stroke="#999" stroke-width="0.7"/>
<line x1="-1.4" y1="119.72" x2="0" y2="119.72" stroke="#999" stroke-width="0.7"/>
<line x1="-1.4" y1="106.4" x2="0" y2="106.4" stroke="#999" stroke-width="0.7"/>
<line x1="-1.4" y1="99.74" x2="0" y2="99.74" stroke="#999" stroke-width="0.7"/>
<line x1="-1.4" y1="93.08" x2="0" y2="93.08" stroke="#999" stroke-width="0.7"/>
<line x1="-1.4" y1="79.76" x2="0" y2="79.76" stroke="#999" stroke-width="0.7"/>
<line x1="-1.4" y1="73.1" x2="0" y2="73.1" stroke="#999" stroke-width="0.7"/>
<line x1="-1.4" y1="66.44" x2="0" y2="66.44" stroke="#999" stroke-width="0.7"/>
<line x1="-1.4" y1="53.12" x2="0" y2="53.12" stroke="#999" stroke-width="0.7"/>
<line x1="-1.4" y1="46.46" x2="0" y2="46.46" stroke="#999" stroke-width="0.7"/>
<line x1="-1.4" y1="39.8" x2="0" y2="39.8" stroke="#999" stroke-width="0.7"/>
<line x1="-1.4" y1="26.48" x2="0" y2="26.48" stroke="#999" stroke-width="0.7"/>
<line x1="-1.4" y1="19.82" x2="0" y2="19.82" stroke="#999" stroke-width="0.7"/>
<line x1="-1.4" y1="13.16" x2="0" y2="13.16" stroke="#999" stroke-width="0.7"/>
<text transform="translate(-22.9,69.55) rotate(-90)" font-size="9.8" fill="#555" text-anchor="middle" textLength="44.6" lengthAdjust="spacingAndGlyphs">% of Max</text>
<line x1="14.5" y1="139.7" x2="14.5" y2="144" stroke="#555" stroke-width="0.9"/>
<line x1="30" y1="139.7" x2="30" y2="144" stroke="#555" stroke-width="0.9"/>
<line x1="63.3" y1="139.7" x2="63.3" y2="144" stroke="#555" stroke-width="0.9"/>
<line x1="96.6" y1="139.7" x2="96.6" y2="144" stroke="#555" stroke-width="0.9"/>
<line x1="127.3" y1="139.7" x2="127.3" y2="144" stroke="#555" stroke-width="0.9"/>
<line x1="40.02" y1="139.7" x2="40.02" y2="142.7" stroke="#666" stroke-width="0.75"/>
<line x1="45.89" y1="139.7" x2="45.89" y2="142.7" stroke="#666" stroke-width="0.75"/>
<line x1="50.05" y1="139.7" x2="50.05" y2="142.7" stroke="#666" stroke-width="0.75"/>
<line x1="53.28" y1="139.7" x2="53.28" y2="142.7" stroke="#666" stroke-width="0.75"/>
<line x1="55.91" y1="139.7" x2="55.91" y2="142.7" stroke="#666" stroke-width="0.75"/>
<line x1="58.14" y1="139.7" x2="58.14" y2="142.7" stroke="#666" stroke-width="0.75"/>
<line x1="60.07" y1="139.7" x2="60.07" y2="142.7" stroke="#666" stroke-width="0.75"/>
<line x1="61.78" y1="139.7" x2="61.78" y2="142.7" stroke="#666" stroke-width="0.75"/>
<line x1="73.32" y1="139.7" x2="73.32" y2="142.7" stroke="#666" stroke-width="0.75"/>
<line x1="79.19" y1="139.7" x2="79.19" y2="142.7" stroke="#666" stroke-width="0.75"/>
<line x1="83.35" y1="139.7" x2="83.35" y2="142.7" stroke="#666" stroke-width="0.75"/>
<line x1="86.58" y1="139.7" x2="86.58" y2="142.7" stroke="#666" stroke-width="0.75"/>
<line x1="89.21" y1="139.7" x2="89.21" y2="142.7" stroke="#666" stroke-width="0.75"/>
<line x1="91.44" y1="139.7" x2="91.44" y2="142.7" stroke="#666" stroke-width="0.75"/>
<line x1="93.37" y1="139.7" x2="93.37" y2="142.7" stroke="#666" stroke-width="0.75"/>
<line x1="95.08" y1="139.7" x2="95.08" y2="142.7" stroke="#666" stroke-width="0.75"/>
<line x1="105.84" y1="139.7" x2="105.84" y2="142.7" stroke="#666" stroke-width="0.75"/>
<line x1="111.25" y1="139.7" x2="111.25" y2="142.7" stroke="#666" stroke-width="0.75"/>
<line x1="115.08" y1="139.7" x2="115.08" y2="142.7" stroke="#666" stroke-width="0.75"/>
<line x1="118.06" y1="139.7" x2="118.06" y2="142.7" stroke="#666" stroke-width="0.75"/>
<line x1="120.49" y1="139.7" x2="120.49" y2="142.7" stroke="#666" stroke-width="0.75"/>
<line x1="122.54" y1="139.7" x2="122.54" y2="142.7" stroke="#666" stroke-width="0.75"/>
<line x1="124.32" y1="139.7" x2="124.32" y2="142.7" stroke="#666" stroke-width="0.75"/>
<line x1="125.9" y1="139.7" x2="125.9" y2="142.7" stroke="#666" stroke-width="0.75"/>
<line x1="1.4" y1="139.7" x2="1.4" y2="142.7" stroke="#666" stroke-width="0.75"/>
<line x1="4.6" y1="139.7" x2="4.6" y2="142.7" stroke="#666" stroke-width="0.75"/>
<line x1="7.3" y1="139.7" x2="7.3" y2="142.7" stroke="#666" stroke-width="0.75"/>
<line x1="10.3" y1="139.7" x2="10.3" y2="142.7" stroke="#666" stroke-width="0.75"/>
<line x1="18.4" y1="139.7" x2="18.4" y2="142.7" stroke="#666" stroke-width="0.75"/>
<line x1="21.1" y1="139.7" x2="21.1" y2="142.7" stroke="#666" stroke-width="0.75"/>
<line x1="24.2" y1="139.7" x2="24.2" y2="142.7" stroke="#666" stroke-width="0.75"/>
<line x1="26.6" y1="139.7" x2="26.6" y2="142.7" stroke="#666" stroke-width="0.75"/>
<text x="15.1" y="155.9" font-size="8" fill="#333" text-anchor="middle">0</text>
<text x="24" y="155.9" font-size="8" fill="#333">10</text>
<text x="32.5" y="152" font-size="6.4" fill="#333">2</text>
<text x="57.3" y="155.9" font-size="8" fill="#333">10</text>
<text x="65.8" y="152" font-size="6.4" fill="#333">3</text>
<text x="90.6" y="155.9" font-size="8" fill="#333">10</text>
<text x="99.1" y="152" font-size="6.4" fill="#333">4</text>
<text x="121.3" y="155.9" font-size="8" fill="#333">10</text>
<text x="129.8" y="152" font-size="6.4" fill="#333">5</text>
<text x="70.4" y="166.9" font-size="8.8" fill="#333" text-anchor="middle">mBBr</text>
</g>
<text transform="translate(390.4,457.4) scale(1.02,1)" font-size="22" fill="#000">CLL-3</text>
<g transform="translate(31.2,664.6)">
<path d="M34.8,139.4 C35.47,139.18 37.6,138.61 38.84,138.05 C40.07,137.49 41.19,136.82 42.2,136.03 C43.21,135.25 44,134.46 44.9,133.34 C45.79,132.22 46.8,130.76 47.59,129.3 C48.37,127.85 49,126.28 49.61,124.59 C50.21,122.91 50.71,121 51.22,119.21 C51.74,117.41 52.23,115.62 52.7,113.82 C53.18,112.03 53.6,110.01 54.05,108.44 C54.5,106.87 54.97,105.52 55.4,104.4 C55.82,103.28 56.18,102.72 56.61,101.71 C57.03,100.7 57.55,98.79 57.95,98.34 C58.36,97.89 58.67,98.23 59.03,99.02 C59.39,99.8 59.77,101.48 60.11,103.05 C60.44,104.62 60.74,106.42 61.05,108.44 C61.36,110.46 61.66,113.15 61.99,115.17 C62.33,117.19 62.71,118.87 63.07,120.55 C63.43,122.24 63.81,124.14 64.15,125.27 C64.48,126.39 64.75,126.95 65.09,127.28 C65.42,127.62 65.83,127.4 66.17,127.28 C66.5,127.17 66.73,127.17 67.11,126.61 C67.49,126.05 68.01,124.7 68.45,123.92 C68.9,123.13 69.46,123.13 69.8,121.9 C70.14,120.67 70.25,119.43 70.47,116.52 C70.7,113.6 70.92,108.66 71.15,104.4 C71.37,100.14 71.59,95.87 71.82,90.94 C72.04,86 72.27,80.17 72.49,74.78 C72.72,69.4 72.94,63.79 73.17,58.63 C73.39,53.47 73.61,48.76 73.84,43.82 C74.06,38.89 74.29,33.28 74.51,29.02 C74.74,24.75 74.94,20.94 75.18,18.25 C75.43,15.55 75.72,14.21 75.99,12.86 C76.26,11.52 76.53,10.39 76.8,10.17 C77.07,9.94 77.36,9.94 77.61,11.52 C77.85,13.09 78.06,16.23 78.28,19.59 C78.51,22.96 78.73,27.22 78.95,31.71 C79.18,36.19 79.4,41.36 79.63,46.52 C79.85,51.68 80.08,57.51 80.3,62.67 C80.52,67.83 80.75,72.77 80.97,77.48 C81.2,82.19 81.38,86.9 81.65,90.94 C81.92,94.98 82.27,98.79 82.59,101.71 C82.9,104.62 83.19,106.64 83.53,108.44 C83.87,110.23 84.25,111.13 84.61,112.48 C84.97,113.82 85.35,115.17 85.68,116.52 C86.02,117.86 86.31,119.21 86.63,120.55 C86.94,121.9 87.23,123.25 87.57,124.59 C87.91,125.94 88.24,127.17 88.65,128.63 C89.05,130.09 89.54,132 89.99,133.34 C90.44,134.69 90.78,135.81 91.34,136.71 C91.9,137.61 92.68,138.28 93.36,138.73 C94.03,139.18 95.04,139.29 95.38,139.4 L95.38,139.7 Z" fill="#b9b9b9" stroke="#5a5a5a" stroke-width="0.9" stroke-linejoin="round"/>
<rect x="0" y="0" width="140.2" height="139.7" fill="none" stroke="#8a8a8a" stroke-width="1"/>
<path d="M0.5,139.7 L13.26,139.7 L13.26,139.4 C14.61,139.29 19.09,138.95 21.34,138.73 C23.58,138.5 24.93,138.39 26.72,138.05 C28.52,137.72 30.54,137.38 32.11,136.71 C33.68,136.03 34.91,135.14 36.15,134.02 C37.38,132.89 38.5,131.55 39.51,129.98 C40.52,128.41 41.42,126.39 42.2,124.59 C42.99,122.8 43.62,121 44.22,119.21 C44.83,117.41 45.34,115.62 45.84,113.82 C46.33,112.03 46.78,110.23 47.18,108.44 C47.59,106.64 47.9,104.85 48.26,103.05 C48.62,101.26 49,99.46 49.34,97.67 C49.68,95.87 49.97,94.08 50.28,92.28 C50.59,90.49 50.89,88.36 51.22,86.9 C51.56,85.44 51.9,84.32 52.3,83.53 C52.7,82.75 53.2,82.3 53.65,82.19 C54.09,82.08 54.59,82.08 54.99,82.86 C55.4,83.65 55.73,85.33 56.07,86.9 C56.41,88.47 56.7,90.49 57.01,92.28 C57.33,94.08 57.62,95.87 57.95,97.67 C58.29,99.46 58.67,101.03 59.03,103.05 C59.39,105.07 59.77,107.77 60.11,109.78 C60.44,111.8 60.74,113.37 61.05,115.17 C61.36,116.96 61.66,118.98 61.99,120.55 C62.33,122.12 62.67,123.52 63.07,124.59 C63.47,125.67 63.97,126.61 64.42,127.02 C64.86,127.42 65.31,127.31 65.76,127.02 C66.21,126.72 66.66,126.12 67.11,125.27 C67.56,124.41 68.01,124.48 68.45,121.9 C68.9,119.32 69.46,116.74 69.8,109.78 C70.14,102.83 70.25,88.47 70.47,80.17 C70.7,71.87 70.92,66.26 71.15,59.98 C71.37,53.69 71.59,47.64 71.82,42.48 C72.04,37.32 72.22,33.05 72.49,29.02 C72.76,24.98 73.14,21.16 73.43,18.25 C73.73,15.33 73.95,13.2 74.24,11.52 C74.53,9.83 74.89,8.15 75.18,8.15 C75.48,8.15 75.72,11.52 75.99,11.52 C76.26,11.52 76.53,8.6 76.8,8.15 C77.07,7.7 77.36,7.36 77.61,8.82 C77.85,10.28 78.06,13.53 78.28,16.9 C78.51,20.27 78.73,24.53 78.95,29.02 C79.18,33.5 79.4,38.66 79.63,43.82 C79.85,48.98 80.08,54.82 80.3,59.98 C80.52,65.14 80.75,70.07 80.97,74.78 C81.2,79.5 81.38,83.98 81.65,88.25 C81.92,92.51 82.27,97.22 82.59,100.36 C82.9,103.5 83.19,105.3 83.53,107.09 C83.87,108.89 84.2,109.78 84.61,111.13 C85.01,112.48 85.55,114.05 85.95,115.17 C86.36,116.29 86.69,116.52 87.03,117.86 C87.37,119.21 87.66,121.45 87.97,123.25 C88.29,125.04 88.58,127.06 88.92,128.63 C89.25,130.2 89.59,131.44 89.99,132.67 C90.4,133.9 90.78,135.02 91.34,136.03 C91.9,137.04 92.57,138.17 93.36,138.73 C94.14,139.29 95.6,139.29 96.05,139.4 L139.7,139.7" fill="none" stroke="#000" stroke-width="1.5" stroke-linejoin="round"/>
<line x1="-3.2" y1="139.7" x2="0" y2="139.7" stroke="#777" stroke-width="0.9"/>
<text x="-9.8" y="144.1" font-size="8.6" fill="#333" textLength="3.6" lengthAdjust="spacingAndGlyphs">0</text>
<line x1="-3.2" y1="113.06" x2="0" y2="113.06" stroke="#777" stroke-width="0.9"/>
<text x="-13.6" y="117.46" font-size="8.6" fill="#333" textLength="7.4" lengthAdjust="spacingAndGlyphs">20</text>
<line x1="-3.2" y1="86.42" x2="0" y2="86.42" stroke="#777" stroke-width="0.9"/>
<text x="-13.6" y="90.82" font-size="8.6" fill="#333" textLength="7.4" lengthAdjust="spacingAndGlyphs">40</text>
<line x1="-3.2" y1="59.78" x2="0" y2="59.78" stroke="#777" stroke-width="0.9"/>
<text x="-13.6" y="64.18" font-size="8.6" fill="#333" textLength="7.4" lengthAdjust="spacingAndGlyphs">60</text>
<line x1="-3.2" y1="33.14" x2="0" y2="33.14" stroke="#777" stroke-width="0.9"/>
<text x="-13.6" y="37.54" font-size="8.6" fill="#333" textLength="7.4" lengthAdjust="spacingAndGlyphs">80</text>
<line x1="-3.2" y1="6.5" x2="0" y2="6.5" stroke="#777" stroke-width="0.9"/>
<text x="-17.4" y="10.9" font-size="8.6" fill="#333" textLength="11.2" lengthAdjust="spacingAndGlyphs">100</text>
<line x1="-1.4" y1="133.04" x2="0" y2="133.04" stroke="#999" stroke-width="0.7"/>
<line x1="-1.4" y1="126.38" x2="0" y2="126.38" stroke="#999" stroke-width="0.7"/>
<line x1="-1.4" y1="119.72" x2="0" y2="119.72" stroke="#999" stroke-width="0.7"/>
<line x1="-1.4" y1="106.4" x2="0" y2="106.4" stroke="#999" stroke-width="0.7"/>
<line x1="-1.4" y1="99.74" x2="0" y2="99.74" stroke="#999" stroke-width="0.7"/>
<line x1="-1.4" y1="93.08" x2="0" y2="93.08" stroke="#999" stroke-width="0.7"/>
<line x1="-1.4" y1="79.76" x2="0" y2="79.76" stroke="#999" stroke-width="0.7"/>
<line x1="-1.4" y1="73.1" x2="0" y2="73.1" stroke="#999" stroke-width="0.7"/>
<line x1="-1.4" y1="66.44" x2="0" y2="66.44" stroke="#999" stroke-width="0.7"/>
<line x1="-1.4" y1="53.12" x2="0" y2="53.12" stroke="#999" stroke-width="0.7"/>
<line x1="-1.4" y1="46.46" x2="0" y2="46.46" stroke="#999" stroke-width="0.7"/>
<line x1="-1.4" y1="39.8" x2="0" y2="39.8" stroke="#999" stroke-width="0.7"/>
<line x1="-1.4" y1="26.48" x2="0" y2="26.48" stroke="#999" stroke-width="0.7"/>
<line x1="-1.4" y1="19.82" x2="0" y2="19.82" stroke="#999" stroke-width="0.7"/>
<line x1="-1.4" y1="13.16" x2="0" y2="13.16" stroke="#999" stroke-width="0.7"/>
<text transform="translate(-22.9,69.55) rotate(-90)" font-size="9.8" fill="#555" text-anchor="middle" textLength="44.6" lengthAdjust="spacingAndGlyphs">% of Max</text>
<line x1="14.5" y1="139.7" x2="14.5" y2="144" stroke="#555" stroke-width="0.9"/>
<line x1="30" y1="139.7" x2="30" y2="144" stroke="#555" stroke-width="0.9"/>
<line x1="63.3" y1="139.7" x2="63.3" y2="144" stroke="#555" stroke-width="0.9"/>
<line x1="96.6" y1="139.7" x2="96.6" y2="144" stroke="#555" stroke-width="0.9"/>
<line x1="127.3" y1="139.7" x2="127.3" y2="144" stroke="#555" stroke-width="0.9"/>
<line x1="40.02" y1="139.7" x2="40.02" y2="142.7" stroke="#666" stroke-width="0.75"/>
<line x1="45.89" y1="139.7" x2="45.89" y2="142.7" stroke="#666" stroke-width="0.75"/>
<line x1="50.05" y1="139.7" x2="50.05" y2="142.7" stroke="#666" stroke-width="0.75"/>
<line x1="53.28" y1="139.7" x2="53.28" y2="142.7" stroke="#666" stroke-width="0.75"/>
<line x1="55.91" y1="139.7" x2="55.91" y2="142.7" stroke="#666" stroke-width="0.75"/>
<line x1="58.14" y1="139.7" x2="58.14" y2="142.7" stroke="#666" stroke-width="0.75"/>
<line x1="60.07" y1="139.7" x2="60.07" y2="142.7" stroke="#666" stroke-width="0.75"/>
<line x1="61.78" y1="139.7" x2="61.78" y2="142.7" stroke="#666" stroke-width="0.75"/>
<line x1="73.32" y1="139.7" x2="73.32" y2="142.7" stroke="#666" stroke-width="0.75"/>
<line x1="79.19" y1="139.7" x2="79.19" y2="142.7" stroke="#666" stroke-width="0.75"/>
<line x1="83.35" y1="139.7" x2="83.35" y2="142.7" stroke="#666" stroke-width="0.75"/>
<line x1="86.58" y1="139.7" x2="86.58" y2="142.7" stroke="#666" stroke-width="0.75"/>
<line x1="89.21" y1="139.7" x2="89.21" y2="142.7" stroke="#666" stroke-width="0.75"/>
<line x1="91.44" y1="139.7" x2="91.44" y2="142.7" stroke="#666" stroke-width="0.75"/>
<line x1="93.37" y1="139.7" x2="93.37" y2="142.7" stroke="#666" stroke-width="0.75"/>
<line x1="95.08" y1="139.7" x2="95.08" y2="142.7" stroke="#666" stroke-width="0.75"/>
<line x1="105.84" y1="139.7" x2="105.84" y2="142.7" stroke="#666" stroke-width="0.75"/>
<line x1="111.25" y1="139.7" x2="111.25" y2="142.7" stroke="#666" stroke-width="0.75"/>
<line x1="115.08" y1="139.7" x2="115.08" y2="142.7" stroke="#666" stroke-width="0.75"/>
<line x1="118.06" y1="139.7" x2="118.06" y2="142.7" stroke="#666" stroke-width="0.75"/>
<line x1="120.49" y1="139.7" x2="120.49" y2="142.7" stroke="#666" stroke-width="0.75"/>
<line x1="122.54" y1="139.7" x2="122.54" y2="142.7" stroke="#666" stroke-width="0.75"/>
<line x1="124.32" y1="139.7" x2="124.32" y2="142.7" stroke="#666" stroke-width="0.75"/>
<line x1="125.9" y1="139.7" x2="125.9" y2="142.7" stroke="#666" stroke-width="0.75"/>
<line x1="1.4" y1="139.7" x2="1.4" y2="142.7" stroke="#666" stroke-width="0.75"/>
<line x1="4.6" y1="139.7" x2="4.6" y2="142.7" stroke="#666" stroke-width="0.75"/>
<line x1="7.3" y1="139.7" x2="7.3" y2="142.7" stroke="#666" stroke-width="0.75"/>
<line x1="10.3" y1="139.7" x2="10.3" y2="142.7" stroke="#666" stroke-width="0.75"/>
<line x1="18.4" y1="139.7" x2="18.4" y2="142.7" stroke="#666" stroke-width="0.75"/>
<line x1="21.1" y1="139.7" x2="21.1" y2="142.7" stroke="#666" stroke-width="0.75"/>
<line x1="24.2" y1="139.7" x2="24.2" y2="142.7" stroke="#666" stroke-width="0.75"/>
<line x1="26.6" y1="139.7" x2="26.6" y2="142.7" stroke="#666" stroke-width="0.75"/>
<text x="15.1" y="155.9" font-size="8" fill="#333" text-anchor="middle">0</text>
<text x="24" y="155.9" font-size="8" fill="#333">10</text>
<text x="32.5" y="152" font-size="6.4" fill="#333">2</text>
<text x="57.3" y="155.9" font-size="8" fill="#333">10</text>
<text x="65.8" y="152" font-size="6.4" fill="#333">3</text>
<text x="90.6" y="155.9" font-size="8" fill="#333">10</text>
<text x="99.1" y="152" font-size="6.4" fill="#333">4</text>
<text x="121.3" y="155.9" font-size="8" fill="#333">10</text>
<text x="129.8" y="152" font-size="6.4" fill="#333">5</text>
<text x="70.4" y="166.9" font-size="8.8" fill="#333" text-anchor="middle">mBBr</text>
</g>
<text transform="translate(34.6,656.4) scale(0.98,1)" font-size="22" fill="#000">CB-1</text>
<g transform="translate(205.6,664.6)">
<path d="M37.09,139.4 C37.77,139.06 39.9,138.28 41.13,137.38 C42.36,136.48 43.49,135.25 44.5,134.02 C45.51,132.78 46.36,131.55 47.19,129.98 C48.02,128.41 48.8,126.39 49.48,124.59 C50.15,122.8 50.71,121.23 51.23,119.21 C51.74,117.19 52.12,114.94 52.57,112.48 C53.02,110.01 53.47,107.54 53.92,104.4 C54.37,101.26 54.82,97 55.27,93.63 C55.71,90.27 56.16,86.9 56.61,84.21 C57.06,81.52 57.51,79.5 57.96,77.48 C58.41,75.46 58.9,73.21 59.3,72.09 C59.71,70.97 60.04,70.3 60.38,70.75 C60.72,71.19 61.03,72.77 61.32,74.78 C61.61,76.8 61.86,79.72 62.13,82.86 C62.4,86 62.67,90.27 62.94,93.63 C63.21,97 63.45,100.36 63.75,103.05 C64.04,105.75 64.37,108.1 64.69,109.78 C65,111.47 65.29,112.48 65.63,113.15 C65.97,113.82 66.3,113.94 66.71,113.82 C67.11,113.71 67.61,113.15 68.05,112.48 C68.5,111.8 68.95,110.46 69.4,109.78 C69.85,109.11 70.34,109.78 70.75,108.44 C71.15,107.09 71.51,105.07 71.82,101.71 C72.14,98.34 72.36,93.18 72.63,88.25 C72.9,83.31 73.17,77.93 73.44,72.09 C73.71,66.26 73.98,59.53 74.25,53.25 C74.52,46.96 74.78,40.01 75.05,34.4 C75.32,28.79 75.57,23.86 75.86,19.59 C76.15,15.33 76.53,10.17 76.8,8.82 C77.07,7.48 77.25,9.5 77.48,11.52 C77.7,13.53 77.93,17.35 78.15,20.94 C78.37,24.53 78.58,28.79 78.82,33.05 C79.07,37.32 79.36,42.03 79.63,46.52 C79.9,51 80.17,55.49 80.44,59.98 C80.71,64.46 80.98,69.18 81.25,73.44 C81.52,77.7 81.78,81.74 82.05,85.55 C82.32,89.37 82.55,92.96 82.86,96.32 C83.18,99.69 83.6,102.83 83.94,105.75 C84.28,108.66 84.57,111.36 84.88,113.82 C85.19,116.29 85.49,118.31 85.82,120.55 C86.16,122.8 86.54,125.27 86.9,127.28 C87.26,129.3 87.57,131.1 87.98,132.67 C88.38,134.24 88.83,135.7 89.32,136.71 C89.82,137.72 90.22,138.28 90.94,138.73 C91.66,139.18 93.18,139.29 93.63,139.4 L93.63,139.7 Z" fill="#b9b9b9" stroke="#5a5a5a" stroke-width="0.9" stroke-linejoin="round"/>
<rect x="0" y="0" width="140.2" height="139.7" fill="none" stroke="#8a8a8a" stroke-width="1"/>
<path d="M0.5,139.7 L33.05,139.7 L33.05,139.4 C33.73,139.18 35.97,138.73 37.09,138.05 C38.21,137.38 38.93,136.48 39.78,135.36 C40.64,134.24 41.47,132.89 42.21,131.32 C42.95,129.75 43.62,127.96 44.23,125.94 C44.83,123.92 45.35,121.68 45.84,119.21 C46.34,116.74 46.81,113.82 47.19,111.13 C47.57,108.44 47.84,105.97 48.13,103.05 C48.42,100.14 48.67,97 48.94,93.63 C49.21,90.27 49.48,86.45 49.75,82.86 C50.02,79.27 50.31,75.68 50.55,72.09 C50.8,68.5 51,64.91 51.23,61.32 C51.45,57.73 51.65,54.14 51.9,50.55 C52.15,46.96 52.44,43.37 52.71,39.78 C52.98,36.19 53.2,32.38 53.52,29.02 C53.83,25.65 54.23,22.28 54.59,19.59 C54.95,16.9 55.33,14.66 55.67,12.86 C56.01,11.07 56.3,9.5 56.61,8.82 C56.93,8.15 57.22,7.93 57.55,8.82 C57.89,9.72 58.32,11.96 58.63,14.21 C58.94,16.45 59.17,19.14 59.44,22.28 C59.71,25.43 60,29.46 60.25,33.05 C60.49,36.64 60.69,40.01 60.92,43.82 C61.14,47.64 61.35,51.68 61.59,55.94 C61.84,60.2 62.13,64.91 62.4,69.4 C62.67,73.89 62.94,78.37 63.21,82.86 C63.48,87.35 63.77,92.28 64.02,96.32 C64.26,100.36 64.46,104.4 64.69,107.09 C64.91,109.78 65.07,111.36 65.36,112.48 C65.65,113.6 66.1,114.05 66.44,113.82 C66.78,113.6 67.07,112.03 67.38,111.13 C67.69,110.23 67.99,109.22 68.32,108.44 C68.66,107.65 69,106.64 69.4,106.42 C69.8,106.19 70.34,107.88 70.75,107.09 C71.15,106.31 71.51,104.4 71.82,101.71 C72.14,99.02 72.36,95.43 72.63,90.94 C72.9,86.45 73.17,80.17 73.44,74.78 C73.71,69.4 73.98,64.02 74.25,58.63 C74.52,53.25 74.78,47.41 75.05,42.48 C75.32,37.54 75.57,32.83 75.86,29.02 C76.15,25.2 76.49,21.84 76.8,19.59 C77.12,17.35 77.45,15.78 77.75,15.55 C78.04,15.33 78.28,16 78.55,18.25 C78.82,20.49 79.09,24.75 79.36,29.02 C79.63,33.28 79.9,38.89 80.17,43.82 C80.44,48.76 80.71,53.69 80.98,58.63 C81.25,63.57 81.52,68.95 81.78,73.44 C82.05,77.93 82.3,81.74 82.59,85.55 C82.88,89.37 83.22,92.96 83.53,96.32 C83.85,99.69 84.14,102.61 84.48,105.75 C84.81,108.89 85.19,112.25 85.55,115.17 C85.91,118.09 86.29,120.78 86.63,123.25 C86.97,125.71 87.26,128.07 87.57,129.98 C87.89,131.88 88.18,133.45 88.52,134.69 C88.85,135.92 89.08,136.64 89.59,137.38 C90.11,138.12 90.83,138.79 91.61,139.13 C92.4,139.47 93.86,139.36 94.3,139.4 L139.7,139.7" fill="none" stroke="#000" stroke-width="1.5" stroke-linejoin="round"/>
<line x1="-3.2" y1="139.7" x2="0" y2="139.7" stroke="#777" stroke-width="0.9"/>
<text x="-9.8" y="144.1" font-size="8.6" fill="#333" textLength="3.6" lengthAdjust="spacingAndGlyphs">0</text>
<line x1="-3.2" y1="113.06" x2="0" y2="113.06" stroke="#777" stroke-width="0.9"/>
<text x="-13.6" y="117.46" font-size="8.6" fill="#333" textLength="7.4" lengthAdjust="spacingAndGlyphs">20</text>
<line x1="-3.2" y1="86.42" x2="0" y2="86.42" stroke="#777" stroke-width="0.9"/>
<text x="-13.6" y="90.82" font-size="8.6" fill="#333" textLength="7.4" lengthAdjust="spacingAndGlyphs">40</text>
<line x1="-3.2" y1="59.78" x2="0" y2="59.78" stroke="#777" stroke-width="0.9"/>
<text x="-13.6" y="64.18" font-size="8.6" fill="#333" textLength="7.4" lengthAdjust="spacingAndGlyphs">60</text>
<line x1="-3.2" y1="33.14" x2="0" y2="33.14" stroke="#777" stroke-width="0.9"/>
<text x="-13.6" y="37.54" font-size="8.6" fill="#333" textLength="7.4" lengthAdjust="spacingAndGlyphs">80</text>
<line x1="-3.2" y1="6.5" x2="0" y2="6.5" stroke="#777" stroke-width="0.9"/>
<text x="-17.4" y="10.9" font-size="8.6" fill="#333" textLength="11.2" lengthAdjust="spacingAndGlyphs">100</text>
<line x1="-1.4" y1="133.04" x2="0" y2="133.04" stroke="#999" stroke-width="0.7"/>
<line x1="-1.4" y1="126.38" x2="0" y2="126.38" stroke="#999" stroke-width="0.7"/>
<line x1="-1.4" y1="119.72" x2="0" y2="119.72" stroke="#999" stroke-width="0.7"/>
<line x1="-1.4" y1="106.4" x2="0" y2="106.4" stroke="#999" stroke-width="0.7"/>
<line x1="-1.4" y1="99.74" x2="0" y2="99.74" stroke="#999" stroke-width="0.7"/>
<line x1="-1.4" y1="93.08" x2="0" y2="93.08" stroke="#999" stroke-width="0.7"/>
<line x1="-1.4" y1="79.76" x2="0" y2="79.76" stroke="#999" stroke-width="0.7"/>
<line x1="-1.4" y1="73.1" x2="0" y2="73.1" stroke="#999" stroke-width="0.7"/>
<line x1="-1.4" y1="66.44" x2="0" y2="66.44" stroke="#999" stroke-width="0.7"/>
<line x1="-1.4" y1="53.12" x2="0" y2="53.12" stroke="#999" stroke-width="0.7"/>
<line x1="-1.4" y1="46.46" x2="0" y2="46.46" stroke="#999" stroke-width="0.7"/>
<line x1="-1.4" y1="39.8" x2="0" y2="39.8" stroke="#999" stroke-width="0.7"/>
<line x1="-1.4" y1="26.48" x2="0" y2="26.48" stroke="#999" stroke-width="0.7"/>
<line x1="-1.4" y1="19.82" x2="0" y2="19.82" stroke="#999" stroke-width="0.7"/>
<line x1="-1.4" y1="13.16" x2="0" y2="13.16" stroke="#999" stroke-width="0.7"/>
<text transform="translate(-22.9,69.55) rotate(-90)" font-size="9.8" fill="#555" text-anchor="middle" textLength="44.6" lengthAdjust="spacingAndGlyphs">% of Max</text>
<line x1="14.5" y1="139.7" x2="14.5" y2="144" stroke="#555" stroke-width="0.9"/>
<line x1="30" y1="139.7" x2="30" y2="144" stroke="#555" stroke-width="0.9"/>
<line x1="63.3" y1="139.7" x2="63.3" y2="144" stroke="#555" stroke-width="0.9"/>
<line x1="96.6" y1="139.7" x2="96.6" y2="144" stroke="#555" stroke-width="0.9"/>
<line x1="127.3" y1="139.7" x2="127.3" y2="144" stroke="#555" stroke-width="0.9"/>
<line x1="40.02" y1="139.7" x2="40.02" y2="142.7" stroke="#666" stroke-width="0.75"/>
<line x1="45.89" y1="139.7" x2="45.89" y2="142.7" stroke="#666" stroke-width="0.75"/>
<line x1="50.05" y1="139.7" x2="50.05" y2="142.7" stroke="#666" stroke-width="0.75"/>
<line x1="53.28" y1="139.7" x2="53.28" y2="142.7" stroke="#666" stroke-width="0.75"/>
<line x1="55.91" y1="139.7" x2="55.91" y2="142.7" stroke="#666" stroke-width="0.75"/>
<line x1="58.14" y1="139.7" x2="58.14" y2="142.7" stroke="#666" stroke-width="0.75"/>
<line x1="60.07" y1="139.7" x2="60.07" y2="142.7" stroke="#666" stroke-width="0.75"/>
<line x1="61.78" y1="139.7" x2="61.78" y2="142.7" stroke="#666" stroke-width="0.75"/>
<line x1="73.32" y1="139.7" x2="73.32" y2="142.7" stroke="#666" stroke-width="0.75"/>
<line x1="79.19" y1="139.7" x2="79.19" y2="142.7" stroke="#666" stroke-width="0.75"/>
<line x1="83.35" y1="139.7" x2="83.35" y2="142.7" stroke="#666" stroke-width="0.75"/>
<line x1="86.58" y1="139.7" x2="86.58" y2="142.7" stroke="#666" stroke-width="0.75"/>
<line x1="89.21" y1="139.7" x2="89.21" y2="142.7" stroke="#666" stroke-width="0.75"/>
<line x1="91.44" y1="139.7" x2="91.44" y2="142.7" stroke="#666" stroke-width="0.75"/>
<line x1="93.37" y1="139.7" x2="93.37" y2="142.7" stroke="#666" stroke-width="0.75"/>
<line x1="95.08" y1="139.7" x2="95.08" y2="142.7" stroke="#666" stroke-width="0.75"/>
<line x1="105.84" y1="139.7" x2="105.84" y2="142.7" stroke="#666" stroke-width="0.75"/>
<line x1="111.25" y1="139.7" x2="111.25" y2="142.7" stroke="#666" stroke-width="0.75"/>
<line x1="115.08" y1="139.7" x2="115.08" y2="142.7" stroke="#666" stroke-width="0.75"/>
<line x1="118.06" y1="139.7" x2="118.06" y2="142.7" stroke="#666" stroke-width="0.75"/>
<line x1="120.49" y1="139.7" x2="120.49" y2="142.7" stroke="#666" stroke-width="0.75"/>
<line x1="122.54" y1="139.7" x2="122.54" y2="142.7" stroke="#666" stroke-width="0.75"/>
<line x1="124.32" y1="139.7" x2="124.32" y2="142.7" stroke="#666" stroke-width="0.75"/>
<line x1="125.9" y1="139.7" x2="125.9" y2="142.7" stroke="#666" stroke-width="0.75"/>
<line x1="1.4" y1="139.7" x2="1.4" y2="142.7" stroke="#666" stroke-width="0.75"/>
<line x1="4.6" y1="139.7" x2="4.6" y2="142.7" stroke="#666" stroke-width="0.75"/>
<line x1="7.3" y1="139.7" x2="7.3" y2="142.7" stroke="#666" stroke-width="0.75"/>
<line x1="10.3" y1="139.7" x2="10.3" y2="142.7" stroke="#666" stroke-width="0.75"/>
<line x1="18.4" y1="139.7" x2="18.4" y2="142.7" stroke="#666" stroke-width="0.75"/>
<line x1="21.1" y1="139.7" x2="21.1" y2="142.7" stroke="#666" stroke-width="0.75"/>
<line x1="24.2" y1="139.7" x2="24.2" y2="142.7" stroke="#666" stroke-width="0.75"/>
<line x1="26.6" y1="139.7" x2="26.6" y2="142.7" stroke="#666" stroke-width="0.75"/>
<text x="15.1" y="155.9" font-size="8" fill="#333" text-anchor="middle">0</text>
<text x="24" y="155.9" font-size="8" fill="#333">10</text>
<text x="32.5" y="152" font-size="6.4" fill="#333">2</text>
<text x="57.3" y="155.9" font-size="8" fill="#333">10</text>
<text x="65.8" y="152" font-size="6.4" fill="#333">3</text>
<text x="90.6" y="155.9" font-size="8" fill="#333">10</text>
<text x="99.1" y="152" font-size="6.4" fill="#333">4</text>
<text x="121.3" y="155.9" font-size="8" fill="#333">10</text>
<text x="129.8" y="152" font-size="6.4" fill="#333">5</text>
<text x="70.4" y="166.9" font-size="8.8" fill="#333" text-anchor="middle">mBBr</text>
</g>
<text transform="translate(212,656.9) scale(1.02,1)" font-size="22" fill="#000">CB-2</text>
<g transform="translate(378.8,664.6)">
<path d="M20.39,139.4 C21.51,139.18 24.88,138.39 27.12,138.05 C29.37,137.72 31.61,137.43 33.85,137.38 C36.1,137.34 38.34,137.72 40.58,137.78 C42.83,137.85 45.07,137.96 47.32,137.78 C49.56,137.61 52.48,137 54.05,136.71 C55.62,136.42 55.84,135.99 56.74,136.03 C57.64,136.08 58.31,136.75 59.43,136.98 C60.55,137.2 62.12,137.43 63.47,137.38 C64.82,137.34 66.39,136.93 67.51,136.71 C68.63,136.48 69.53,136.48 70.2,136.03 C70.87,135.59 71.1,134.8 71.55,134.02 C71.99,133.23 72.44,132.44 72.89,131.32 C73.34,130.2 73.79,129.3 74.24,127.28 C74.69,125.27 75.18,121.9 75.58,119.21 C75.99,116.52 76.32,114.05 76.66,111.13 C77,108.21 77.29,105.07 77.6,101.71 C77.92,98.34 78.25,94.53 78.55,90.94 C78.84,87.35 79.11,83.76 79.35,80.17 C79.6,76.58 79.8,73.21 80.03,69.4 C80.25,65.59 80.45,61.32 80.7,57.28 C80.95,53.25 81.24,49.21 81.51,45.17 C81.78,41.13 82.05,36.64 82.32,33.05 C82.58,29.46 82.85,25.87 83.12,23.63 C83.39,21.39 83.66,20.27 83.93,19.59 C84.2,18.92 84.47,18.69 84.74,19.59 C85.01,20.49 85.28,22.51 85.55,24.98 C85.82,27.44 86.11,30.81 86.35,34.4 C86.6,37.99 86.8,42.7 87.03,46.52 C87.25,50.33 87.48,53.47 87.7,57.28 C87.92,61.1 88.15,65.36 88.37,69.4 C88.6,73.44 88.82,77.48 89.05,81.52 C89.27,85.55 89.49,89.82 89.72,93.63 C89.94,97.44 90.17,101.03 90.39,104.4 C90.62,107.77 90.84,110.91 91.07,113.82 C91.29,116.74 91.51,119.66 91.74,121.9 C91.96,124.14 92.14,125.71 92.41,127.28 C92.68,128.86 93.02,130.31 93.35,131.32 C93.69,132.33 94.07,133.12 94.43,133.34 C94.79,133.57 95.17,132.89 95.51,132.67 C95.84,132.44 96.14,132 96.45,132 C96.76,132 97.06,132.11 97.39,132.67 C97.73,133.23 98.07,134.46 98.47,135.36 C98.87,136.26 99.25,137.38 99.82,138.05 C100.38,138.73 101.5,139.18 101.83,139.4 L101.83,139.7 Z" fill="#b9b9b9" stroke="#5a5a5a" stroke-width="0.9" stroke-linejoin="round"/>
<rect x="0" y="0" width="140.5" height="139.7" fill="none" stroke="#8a8a8a" stroke-width="1"/>
<line x1="140.5" y1="-0.5" x2="140.5" y2="139.7" stroke="#000" stroke-width="1.3"/>
<path d="M0.5,139.7 L15.01,139.7 L15.01,139.4 C15.91,139.18 18.71,138.5 20.39,138.05 C22.07,137.61 23.76,137.04 25.1,136.71 C26.45,136.37 27.46,136.48 28.47,136.03 C29.48,135.59 30.26,134.24 31.16,134.02 C32.06,133.79 32.84,134.51 33.85,134.69 C34.86,134.87 36.1,135.09 37.22,135.09 C38.34,135.09 39.57,135.09 40.58,134.69 C41.59,134.28 42.27,133.45 43.28,132.67 C44.29,131.88 45.63,130.54 46.64,129.98 C47.65,129.42 48.44,129.75 49.33,129.3 C50.23,128.86 51.13,128.07 52.03,127.28 C52.92,126.5 53.82,125.71 54.72,124.59 C55.62,123.47 56.81,121.9 57.41,120.55 C58.02,119.21 58.02,118.09 58.35,116.52 C58.69,114.94 59.07,112.93 59.43,111.13 C59.79,109.34 60.17,107.54 60.51,105.75 C60.84,103.95 61.14,102.16 61.45,100.36 C61.76,98.57 62.1,97 62.39,94.98 C62.68,92.96 62.93,90.71 63.2,88.25 C63.47,85.78 63.74,82.86 64.01,80.17 C64.28,77.48 64.55,74.78 64.82,72.09 C65.08,69.4 65.35,66.71 65.62,64.02 C65.89,61.32 66.16,58.18 66.43,55.94 C66.7,53.69 66.95,51.9 67.24,50.55 C67.53,49.21 67.87,48.76 68.18,47.86 C68.49,46.96 68.79,47.41 69.12,45.17 C69.46,42.93 69.84,37.54 70.2,34.4 C70.56,31.26 70.94,28.79 71.28,26.32 C71.61,23.86 71.91,20.94 72.22,19.59 C72.53,18.25 72.82,19.14 73.16,18.25 C73.5,17.35 73.88,15.67 74.24,14.21 C74.6,12.75 74.98,10.39 75.32,9.5 C75.65,8.6 75.94,7.81 76.26,8.82 C76.57,9.83 76.91,13.76 77.2,15.55 C77.49,17.35 77.76,19.82 78.01,19.59 C78.25,19.37 78.41,15.33 78.68,14.21 C78.95,13.09 79.33,12.64 79.62,12.86 C79.91,13.09 80.16,16 80.43,15.55 C80.7,15.11 80.92,11.34 81.24,10.17 C81.55,9 81.96,8.55 82.32,8.55 C82.67,8.55 83.08,8.78 83.39,10.17 C83.71,11.56 83.93,15.33 84.2,16.9 C84.47,18.47 84.74,20.83 85.01,19.59 C85.28,18.36 85.59,9.5 85.82,9.5 C86.04,9.5 86.15,15.67 86.35,19.59 C86.56,23.52 86.8,28.34 87.03,33.05 C87.25,37.77 87.48,43.15 87.7,47.86 C87.92,52.57 88.15,56.84 88.37,61.32 C88.6,65.81 88.82,70.52 89.05,74.78 C89.27,79.05 89.49,82.86 89.72,86.9 C89.94,90.94 90.17,95.2 90.39,99.02 C90.62,102.83 90.84,106.42 91.07,109.78 C91.29,113.15 91.51,116.52 91.74,119.21 C91.96,121.9 92.19,124.03 92.41,125.94 C92.64,127.85 92.79,129.19 93.08,130.65 C93.38,132.11 93.76,133.57 94.16,134.69 C94.57,135.81 95.01,136.71 95.51,137.38 C96,138.05 96.52,138.39 97.12,138.73 C97.73,139.06 98.81,139.29 99.14,139.4 L140,139.7" fill="none" stroke="#000" stroke-width="1.5" stroke-linejoin="round"/>
<line x1="-3.2" y1="139.7" x2="0" y2="139.7" stroke="#777" stroke-width="0.9"/>
<text x="-9.8" y="144.1" font-size="8.6" fill="#333" textLength="3.6" lengthAdjust="spacingAndGlyphs">0</text>
<line x1="-3.2" y1="113.06" x2="0" y2="113.06" stroke="#777" stroke-width="0.9"/>
<text x="-13.6" y="117.46" font-size="8.6" fill="#333" textLength="7.4" lengthAdjust="spacingAndGlyphs">20</text>
<line x1="-3.2" y1="86.42" x2="0" y2="86.42" stroke="#777" stroke-width="0.9"/>
<text x="-13.6" y="90.82" font-size="8.6" fill="#333" textLength="7.4" lengthAdjust="spacingAndGlyphs">40</text>
<line x1="-3.2" y1="59.78" x2="0" y2="59.78" stroke="#777" stroke-width="0.9"/>
<text x="-13.6" y="64.18" font-size="8.6" fill="#333" textLength="7.4" lengthAdjust="spacingAndGlyphs">60</text>
<line x1="-3.2" y1="33.14" x2="0" y2="33.14" stroke="#777" stroke-width="0.9"/>
<text x="-13.6" y="37.54" font-size="8.6" fill="#333" textLength="7.4" lengthAdjust="spacingAndGlyphs">80</text>
<line x1="-3.2" y1="6.5" x2="0" y2="6.5" stroke="#777" stroke-width="0.9"/>
<text x="-17.4" y="10.9" font-size="8.6" fill="#333" textLength="11.2" lengthAdjust="spacingAndGlyphs">100</text>
<line x1="-1.4" y1="133.04" x2="0" y2="133.04" stroke="#999" stroke-width="0.7"/>
<line x1="-1.4" y1="126.38" x2="0" y2="126.38" stroke="#999" stroke-width="0.7"/>
<line x1="-1.4" y1="119.72" x2="0" y2="119.72" stroke="#999" stroke-width="0.7"/>
<line x1="-1.4" y1="106.4" x2="0" y2="106.4" stroke="#999" stroke-width="0.7"/>
<line x1="-1.4" y1="99.74" x2="0" y2="99.74" stroke="#999" stroke-width="0.7"/>
<line x1="-1.4" y1="93.08" x2="0" y2="93.08" stroke="#999" stroke-width="0.7"/>
<line x1="-1.4" y1="79.76" x2="0" y2="79.76" stroke="#999" stroke-width="0.7"/>
<line x1="-1.4" y1="73.1" x2="0" y2="73.1" stroke="#999" stroke-width="0.7"/>
<line x1="-1.4" y1="66.44" x2="0" y2="66.44" stroke="#999" stroke-width="0.7"/>
<line x1="-1.4" y1="53.12" x2="0" y2="53.12" stroke="#999" stroke-width="0.7"/>
<line x1="-1.4" y1="46.46" x2="0" y2="46.46" stroke="#999" stroke-width="0.7"/>
<line x1="-1.4" y1="39.8" x2="0" y2="39.8" stroke="#999" stroke-width="0.7"/>
<line x1="-1.4" y1="26.48" x2="0" y2="26.48" stroke="#999" stroke-width="0.7"/>
<line x1="-1.4" y1="19.82" x2="0" y2="19.82" stroke="#999" stroke-width="0.7"/>
<line x1="-1.4" y1="13.16" x2="0" y2="13.16" stroke="#999" stroke-width="0.7"/>
<text transform="translate(-22.9,69.55) rotate(-90)" font-size="9.8" fill="#555" text-anchor="middle" textLength="44.6" lengthAdjust="spacingAndGlyphs">% of Max</text>
<line x1="14.5" y1="139.7" x2="14.5" y2="144" stroke="#555" stroke-width="0.9"/>
<line x1="30" y1="139.7" x2="30" y2="144" stroke="#555" stroke-width="0.9"/>
<line x1="63.3" y1="139.7" x2="63.3" y2="144" stroke="#555" stroke-width="0.9"/>
<line x1="96.6" y1="139.7" x2="96.6" y2="144" stroke="#555" stroke-width="0.9"/>
<line x1="127.3" y1="139.7" x2="127.3" y2="144" stroke="#555" stroke-width="0.9"/>
<line x1="40.02" y1="139.7" x2="40.02" y2="142.7" stroke="#666" stroke-width="0.75"/>
<line x1="45.89" y1="139.7" x2="45.89" y2="142.7" stroke="#666" stroke-width="0.75"/>
<line x1="50.05" y1="139.7" x2="50.05" y2="142.7" stroke="#666" stroke-width="0.75"/>
<line x1="53.28" y1="139.7" x2="53.28" y2="142.7" stroke="#666" stroke-width="0.75"/>
<line x1="55.91" y1="139.7" x2="55.91" y2="142.7" stroke="#666" stroke-width="0.75"/>
<line x1="58.14" y1="139.7" x2="58.14" y2="142.7" stroke="#666" stroke-width="0.75"/>
<line x1="60.07" y1="139.7" x2="60.07" y2="142.7" stroke="#666" stroke-width="0.75"/>
<line x1="61.78" y1="139.7" x2="61.78" y2="142.7" stroke="#666" stroke-width="0.75"/>
<line x1="73.32" y1="139.7" x2="73.32" y2="142.7" stroke="#666" stroke-width="0.75"/>
<line x1="79.19" y1="139.7" x2="79.19" y2="142.7" stroke="#666" stroke-width="0.75"/>
<line x1="83.35" y1="139.7" x2="83.35" y2="142.7" stroke="#666" stroke-width="0.75"/>
<line x1="86.58" y1="139.7" x2="86.58" y2="142.7" stroke="#666" stroke-width="0.75"/>
<line x1="89.21" y1="139.7" x2="89.21" y2="142.7" stroke="#666" stroke-width="0.75"/>
<line x1="91.44" y1="139.7" x2="91.44" y2="142.7" stroke="#666" stroke-width="0.75"/>
<line x1="93.37" y1="139.7" x2="93.37" y2="142.7" stroke="#666" stroke-width="0.75"/>
<line x1="95.08" y1="139.7" x2="95.08" y2="142.7" stroke="#666" stroke-width="0.75"/>
<line x1="105.84" y1="139.7" x2="105.84" y2="142.7" stroke="#666" stroke-width="0.75"/>
<line x1="111.25" y1="139.7" x2="111.25" y2="142.7" stroke="#666" stroke-width="0.75"/>
<line x1="115.08" y1="139.7" x2="115.08" y2="142.7" stroke="#666" stroke-width="0.75"/>
<line x1="118.06" y1="139.7" x2="118.06" y2="142.7" stroke="#666" stroke-width="0.75"/>
<line x1="120.49" y1="139.7" x2="120.49" y2="142.7" stroke="#666" stroke-width="0.75"/>
<line x1="122.54" y1="139.7" x2="122.54" y2="142.7" stroke="#666" stroke-width="0.75"/>
<line x1="124.32" y1="139.7" x2="124.32" y2="142.7" stroke="#666" stroke-width="0.75"/>
<line x1="125.9" y1="139.7" x2="125.9" y2="142.7" stroke="#666" stroke-width="0.75"/>
<line x1="1.4" y1="139.7" x2="1.4" y2="142.7" stroke="#666" stroke-width="0.75"/>
<line x1="4.6" y1="139.7" x2="4.6" y2="142.7" stroke="#666" stroke-width="0.75"/>
<line x1="7.3" y1="139.7" x2="7.3" y2="142.7" stroke="#666" stroke-width="0.75"/>
<line x1="10.3" y1="139.7" x2="10.3" y2="142.7" stroke="#666" stroke-width="0.75"/>
<line x1="18.4" y1="139.7" x2="18.4" y2="142.7" stroke="#666" stroke-width="0.75"/>
<line x1="21.1" y1="139.7" x2="21.1" y2="142.7" stroke="#666" stroke-width="0.75"/>
<line x1="24.2" y1="139.7" x2="24.2" y2="142.7" stroke="#666" stroke-width="0.75"/>
<line x1="26.6" y1="139.7" x2="26.6" y2="142.7" stroke="#666" stroke-width="0.75"/>
<text x="15.1" y="155.9" font-size="8" fill="#333" text-anchor="middle">0</text>
<text x="24" y="155.9" font-size="8" fill="#333">10</text>
<text x="32.5" y="152" font-size="6.4" fill="#333">2</text>
<text x="57.3" y="155.9" font-size="8" fill="#333">10</text>
<text x="65.8" y="152" font-size="6.4" fill="#333">3</text>
<text x="90.6" y="155.9" font-size="8" fill="#333">10</text>
<text x="99.1" y="152" font-size="6.4" fill="#333">4</text>
<text x="121.3" y="155.9" font-size="8" fill="#333">10</text>
<text x="129.8" y="152" font-size="6.4" fill="#333">5</text>
<text x="70.4" y="166.9" font-size="8.8" fill="#333" text-anchor="middle">mBBr</text>
</g>
<text transform="translate(389.9,657.4) scale(1.06,1)" font-size="22" fill="#000">BM</text>
<rect x="29.8" y="854.4" width="466" height="7" fill="#000"/>
<path d="M489.5,847 Q489,844.5 491.5,845.2 L506.5,856 Q508.5,857.8 506.5,859.6 L491.5,870.4 Q489,871.2 489.5,868.6 L494.6,857.8 Z" fill="#000"/>
<text transform="translate(301.4,899.5) scale(0.93,1)" font-size="27.5" fill="#000" text-anchor="middle">mBBr</text>
<line x1="92.5" y1="1184.63" x2="464.6" y2="1184.63" stroke="#8c8c8c" stroke-width="1"/>
<line x1="92.5" y1="1142.27" x2="464.6" y2="1142.27" stroke="#8c8c8c" stroke-width="1"/>
<line x1="92.5" y1="1099.9" x2="464.6" y2="1099.9" stroke="#8c8c8c" stroke-width="1"/>
<line x1="92.5" y1="1057.53" x2="464.6" y2="1057.53" stroke="#8c8c8c" stroke-width="1"/>
<line x1="92.5" y1="1015.17" x2="464.6" y2="1015.17" stroke="#8c8c8c" stroke-width="1"/>
<line x1="92.5" y1="972.8" x2="464.6" y2="972.8" stroke="#8c8c8c" stroke-width="1"/>
<line x1="464.6" y1="972.8" x2="464.6" y2="1227" stroke="#aaa" stroke-width="1"/>
<rect x="107.2" y="1015.17" width="79" height="211.83" fill="#000" stroke="#000" stroke-width="1.25"/>
<rect x="186.2" y="1018.13" width="77.4" height="208.87" fill="#c4c4c4" stroke="#000" stroke-width="1.25"/>
<rect x="293.6" y="1224.46" width="78.2" height="2.54" fill="#000" stroke="#000" stroke-width="1.25"/>
<rect x="371.8" y="1028.3" width="77.6" height="198.7" fill="#c4c4c4" stroke="#000" stroke-width="1.25"/>
<line x1="146.6" y1="1009.24" x2="146.6" y2="1021.1" stroke="#000" stroke-width="1.1"/>
<line x1="143.8" y1="1009.24" x2="149.4" y2="1009.24" stroke="#000" stroke-width="1.1"/>
<line x1="143.8" y1="1021.1" x2="149.4" y2="1021.1" stroke="#000" stroke-width="1.1"/>
<line x1="224.8" y1="1011.99" x2="224.8" y2="1024.28" stroke="#000" stroke-width="1.1"/>
<line x1="222" y1="1011.99" x2="227.6" y2="1011.99" stroke="#000" stroke-width="1.1"/>
<line x1="222" y1="1024.28" x2="227.6" y2="1024.28" stroke="#000" stroke-width="1.1"/>
<line x1="410.4" y1="1019.4" x2="410.4" y2="1037.2" stroke="#000" stroke-width="1.1"/>
<line x1="407.6" y1="1019.4" x2="413.2" y2="1019.4" stroke="#000" stroke-width="1.1"/>
<line x1="407.6" y1="1037.2" x2="413.2" y2="1037.2" stroke="#000" stroke-width="1.1"/>
<line x1="332.7" y1="1223.61" x2="332.7" y2="1225.31" stroke="#000" stroke-width="1.1"/>
<line x1="329.9" y1="1223.61" x2="335.5" y2="1223.61" stroke="#000" stroke-width="1.1"/>
<line x1="329.9" y1="1225.31" x2="335.5" y2="1225.31" stroke="#000" stroke-width="1.1"/>
<line x1="92.5" y1="972.8" x2="92.5" y2="1231.5" stroke="#8c8c8c" stroke-width="1"/>
<line x1="87" y1="1227" x2="464.6" y2="1227" stroke="#8c8c8c" stroke-width="1"/>
<line x1="278.5" y1="1227" x2="278.5" y2="1231.5" stroke="#8c8c8c" stroke-width="1"/>
<line x1="464.6" y1="1227" x2="464.6" y2="1231.5" stroke="#8c8c8c" stroke-width="1"/>
<line x1="87" y1="1227" x2="92.5" y2="1227" stroke="#8c8c8c" stroke-width="1"/>
<text x="77.6" y="1233.1" font-size="18" fill="#000" text-anchor="end">0</text>
<line x1="87" y1="1184.63" x2="92.5" y2="1184.63" stroke="#8c8c8c" stroke-width="1"/>
<text x="77.6" y="1190.73" font-size="18" fill="#000" text-anchor="end">20</text>
<line x1="87" y1="1142.27" x2="92.5" y2="1142.27" stroke="#8c8c8c" stroke-width="1"/>
<text x="77.6" y="1148.37" font-size="18" fill="#000" text-anchor="end">40</text>
<line x1="87" y1="1099.9" x2="92.5" y2="1099.9" stroke="#8c8c8c" stroke-width="1"/>
<text x="77.6" y="1106" font-size="18" fill="#000" text-anchor="end">60</text>
<line x1="87" y1="1057.53" x2="92.5" y2="1057.53" stroke="#8c8c8c" stroke-width="1"/>
<text x="77.6" y="1063.63" font-size="18" fill="#000" text-anchor="end">80</text>
<line x1="87" y1="1015.17" x2="92.5" y2="1015.17" stroke="#8c8c8c" stroke-width="1"/>
<text x="77.6" y="1021.27" font-size="18" fill="#000" text-anchor="end">100</text>
<line x1="87" y1="972.8" x2="92.5" y2="972.8" stroke="#8c8c8c" stroke-width="1"/>
<text x="77.6" y="978.9" font-size="18" fill="#000" text-anchor="end">120</text>
<text transform="translate(49,1099.6) rotate(-90)" font-size="19" fill="#000" text-anchor="middle">% Viable</text>
<text x="185.5" y="1259.6" font-size="18.6" fill="#000" text-anchor="middle">Control</text>
<text x="372.5" y="1259.6" font-size="18.6" fill="#000" text-anchor="middle">TDZD</text>
<rect x="356.7" y="972.2" width="110" height="43" fill="#fff" stroke="#8c8c8c" stroke-width="1"/>
<rect x="361.2" y="977.6" width="11" height="11.4" fill="#000" stroke="#000" stroke-width="0.8"/>
<rect x="361.2" y="998.7" width="11" height="11.6" fill="#c4c4c4" stroke="#000" stroke-width="0.5"/>
<text x="377.2" y="989.7" font-size="15.8" fill="#000">Untreated</text>
<text x="377.2" y="1010.8" font-size="15.8" fill="#000">NAC 800µM</text>
</svg>
</body></html>
